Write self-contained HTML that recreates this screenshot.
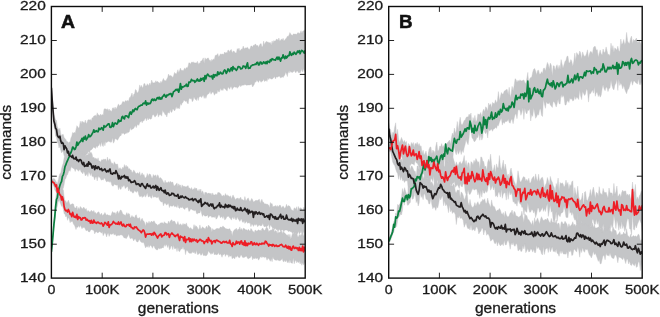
<!DOCTYPE html>
<html><head><meta charset="utf-8"><title>chart</title>
<style>html,body{margin:0;padding:0;background:#fff;}body{width:660px;height:317px;overflow:hidden;font-family:"Liberation Sans",sans-serif;}svg{display:block;opacity:0.999;will-change:transform;}</style>
</head><body>
<svg width="660" height="317" viewBox="0 0 660 317">
<rect width="660" height="317" fill="#ffffff"/>
<clipPath id="clipA"><rect x="51.4" y="6.5" width="253.8" height="271.6"/></clipPath>
<clipPath id="clipB"><rect x="388.7" y="6.5" width="253.5" height="271.6"/></clipPath>
<g clip-path="url(#clipA)">
<path d="M51.4 251.4 L52.2 241.2 L53.1 230.4 L53.9 219.3 L54.8 211.2 L55.6 199.8 L56.5 190.4 L57.3 187.5 L58.2 181.1 L59.0 176.5 L59.9 173.7 L60.7 173.3 L61.6 168.5 L62.4 165.5 L63.3 163.1 L64.1 158.0 L65.0 153.7 L65.8 152.0 L66.7 147.9 L67.5 148.3 L68.4 144.5 L69.2 141.9 L70.1 142.3 L70.9 138.1 L71.8 136.2 L72.6 132.4 L73.5 133.2 L74.3 132.2 L75.2 133.2 L76.0 129.7 L76.9 125.7 L77.7 126.7 L78.6 128.3 L79.4 127.1 L80.3 121.2 L81.1 123.9 L82.0 121.0 L82.8 122.2 L83.7 122.2 L84.5 122.9 L85.4 120.1 L86.2 123.8 L87.1 122.5 L87.9 119.9 L88.7 119.7 L89.6 119.9 L90.4 119.5 L91.3 121.1 L92.1 117.8 L93.0 118.0 L93.8 116.0 L94.7 115.7 L95.5 115.3 L96.4 116.5 L97.2 112.8 L98.1 115.3 L98.9 114.7 L99.8 116.1 L100.6 114.0 L101.5 115.5 L102.3 114.5 L103.2 115.2 L104.0 109.2 L104.9 108.7 L105.7 109.0 L106.6 109.4 L107.4 108.7 L108.3 110.9 L109.1 109.0 L110.0 111.1 L110.8 110.4 L111.7 111.8 L112.5 108.1 L113.4 107.8 L114.2 109.6 L115.1 107.0 L115.9 109.2 L116.8 107.9 L117.6 106.0 L118.5 103.9 L119.3 105.9 L120.2 105.1 L121.0 104.9 L121.9 103.6 L122.7 101.6 L123.6 101.8 L124.4 102.5 L125.2 100.9 L126.1 100.6 L126.9 101.5 L127.8 100.2 L128.6 101.6 L129.5 97.6 L130.3 97.4 L131.2 95.3 L132.0 93.0 L132.9 97.5 L133.7 94.4 L134.6 93.8 L135.4 89.6 L136.3 90.2 L137.1 92.9 L138.0 92.4 L138.8 90.6 L139.7 84.9 L140.5 87.6 L141.4 85.3 L142.2 87.8 L143.1 87.0 L143.9 83.8 L144.8 83.6 L145.6 86.1 L146.5 85.7 L147.3 83.7 L148.2 85.4 L149.0 85.0 L149.9 83.0 L150.7 85.6 L151.6 80.0 L152.4 82.2 L153.3 83.0 L154.1 82.6 L155.0 83.1 L155.8 80.7 L156.7 82.3 L157.5 81.2 L158.4 82.6 L159.2 82.6 L160.1 83.6 L160.9 81.2 L161.7 83.0 L162.6 80.3 L163.4 78.4 L164.3 80.4 L165.1 80.6 L166.0 81.0 L166.8 79.0 L167.7 77.6 L168.5 74.1 L169.4 76.0 L170.2 75.4 L171.1 75.8 L171.9 76.5 L172.8 77.4 L173.6 75.7 L174.5 72.5 L175.3 73.3 L176.2 74.3 L177.0 72.5 L177.9 69.7 L178.7 72.8 L179.6 70.5 L180.4 68.0 L181.3 70.5 L182.1 70.1 L183.0 70.9 L183.8 69.8 L184.7 67.9 L185.5 69.4 L186.4 67.4 L187.2 68.3 L188.1 66.2 L188.9 62.8 L189.8 63.0 L190.6 64.3 L191.5 62.1 L192.3 62.6 L193.2 61.8 L194.0 63.1 L194.9 62.7 L195.7 63.0 L196.5 63.1 L197.4 61.3 L198.2 64.4 L199.1 62.8 L199.9 63.8 L200.8 61.0 L201.6 60.9 L202.5 59.5 L203.3 57.9 L204.2 63.5 L205.0 57.8 L205.9 59.4 L206.7 59.1 L207.6 58.0 L208.4 57.9 L209.3 60.5 L210.1 59.9 L211.0 61.9 L211.8 59.3 L212.7 60.4 L213.5 58.9 L214.4 59.4 L215.2 55.4 L216.1 55.2 L216.9 55.1 L217.8 53.6 L218.6 56.7 L219.5 56.1 L220.3 53.9 L221.2 54.2 L222.0 54.3 L222.9 54.0 L223.7 54.6 L224.6 52.0 L225.4 53.1 L226.3 52.4 L227.1 52.9 L228.0 50.0 L228.8 50.4 L229.7 52.1 L230.5 50.1 L231.4 49.6 L232.2 53.0 L233.0 51.4 L233.9 51.0 L234.7 52.2 L235.6 52.9 L236.4 53.0 L237.3 48.6 L238.1 50.0 L239.0 48.1 L239.8 51.3 L240.7 50.1 L241.5 48.9 L242.4 49.2 L243.2 46.1 L244.1 48.4 L244.9 48.4 L245.8 47.7 L246.6 47.9 L247.5 47.2 L248.3 48.8 L249.2 49.4 L250.0 48.7 L250.9 46.1 L251.7 45.9 L252.6 47.2 L253.4 45.2 L254.3 45.5 L255.1 44.1 L256.0 44.6 L256.8 46.1 L257.7 45.3 L258.5 47.5 L259.4 45.2 L260.2 44.1 L261.1 43.6 L261.9 46.8 L262.8 46.5 L263.6 41.1 L264.5 44.8 L265.3 42.7 L266.2 41.4 L267.0 41.7 L267.9 42.3 L268.7 42.4 L269.5 42.8 L270.4 42.6 L271.2 45.3 L272.1 40.9 L272.9 43.5 L273.8 40.5 L274.6 41.2 L275.5 41.0 L276.3 39.3 L277.2 39.3 L278.0 40.5 L278.9 38.0 L279.7 41.2 L280.6 40.3 L281.4 39.1 L282.3 39.9 L283.1 38.3 L284.0 41.2 L284.8 39.8 L285.7 39.0 L286.5 37.9 L287.4 36.2 L288.2 36.6 L289.1 35.1 L289.9 32.6 L290.8 34.2 L291.6 35.1 L292.5 35.6 L293.3 33.9 L294.2 34.1 L295.0 34.3 L295.9 34.1 L296.7 34.6 L297.6 32.8 L298.4 32.8 L299.3 33.5 L300.1 33.1 L301.0 30.7 L301.8 33.2 L302.7 31.3 L303.5 30.8 L304.4 30.7 L305.2 29.4 L305.2 69.6 L304.4 71.6 L303.5 68.5 L302.7 72.0 L301.8 69.2 L301.0 71.1 L300.1 73.0 L299.3 72.4 L298.4 72.7 L297.6 71.1 L296.7 71.0 L295.9 72.8 L295.0 71.9 L294.2 70.0 L293.3 72.0 L292.5 72.4 L291.6 72.1 L290.8 72.3 L289.9 70.5 L289.1 73.1 L288.2 71.3 L287.4 76.6 L286.5 74.1 L285.7 72.0 L284.8 75.0 L284.0 76.1 L283.1 77.6 L282.3 76.7 L281.4 77.4 L280.6 78.0 L279.7 76.3 L278.9 76.3 L278.0 76.7 L277.2 77.3 L276.3 76.7 L275.5 79.0 L274.6 76.5 L273.8 77.5 L272.9 78.5 L272.1 79.0 L271.2 79.1 L270.4 78.5 L269.5 78.0 L268.7 79.6 L267.9 77.7 L267.0 81.5 L266.2 80.1 L265.3 80.9 L264.5 81.5 L263.6 79.0 L262.8 80.9 L261.9 81.2 L261.1 82.3 L260.2 80.7 L259.4 80.2 L258.5 82.4 L257.7 81.3 L256.8 80.0 L256.0 82.1 L255.1 81.8 L254.3 84.3 L253.4 85.8 L252.6 87.0 L251.7 84.2 L250.9 84.4 L250.0 84.9 L249.2 84.9 L248.3 84.9 L247.5 85.1 L246.6 85.2 L245.8 85.1 L244.9 84.2 L244.1 85.3 L243.2 84.9 L242.4 85.2 L241.5 85.6 L240.7 86.7 L239.8 84.7 L239.0 86.4 L238.1 87.1 L237.3 88.3 L236.4 86.9 L235.6 87.3 L234.7 86.8 L233.9 87.0 L233.0 88.1 L232.2 89.6 L231.4 86.7 L230.5 86.7 L229.7 89.3 L228.8 87.4 L228.0 87.2 L227.1 91.1 L226.3 90.1 L225.4 89.3 L224.6 88.6 L223.7 88.0 L222.9 90.6 L222.0 89.2 L221.2 90.4 L220.3 88.0 L219.5 91.8 L218.6 91.8 L217.8 89.9 L216.9 93.8 L216.1 93.0 L215.2 93.8 L214.4 95.3 L213.5 92.5 L212.7 92.1 L211.8 92.7 L211.0 94.3 L210.1 90.9 L209.3 93.0 L208.4 94.1 L207.6 94.3 L206.7 95.8 L205.9 98.4 L205.0 96.0 L204.2 98.4 L203.3 95.0 L202.5 96.0 L201.6 97.6 L200.8 96.2 L199.9 96.8 L199.1 96.7 L198.2 100.5 L197.4 96.9 L196.5 100.5 L195.7 99.7 L194.9 98.8 L194.0 96.7 L193.2 100.3 L192.3 101.8 L191.5 98.4 L190.6 99.1 L189.8 98.1 L188.9 99.2 L188.1 104.0 L187.2 102.8 L186.4 100.7 L185.5 101.6 L184.7 100.6 L183.8 100.3 L183.0 102.4 L182.1 102.9 L181.3 105.3 L180.4 103.4 L179.6 108.6 L178.7 108.6 L177.9 107.5 L177.0 108.8 L176.2 106.4 L175.3 109.5 L174.5 110.9 L173.6 109.2 L172.8 109.0 L171.9 112.2 L171.1 112.2 L170.2 109.5 L169.4 113.2 L168.5 112.6 L167.7 112.7 L166.8 117.0 L166.0 114.6 L165.1 114.8 L164.3 112.7 L163.4 112.1 L162.6 110.0 L161.7 116.2 L160.9 114.2 L160.1 115.3 L159.2 114.5 L158.4 117.1 L157.5 112.6 L156.7 115.2 L155.8 116.0 L155.0 117.2 L154.1 115.5 L153.3 114.4 L152.4 114.9 L151.6 118.6 L150.7 119.2 L149.9 118.7 L149.0 118.3 L148.2 119.9 L147.3 117.4 L146.5 120.8 L145.6 117.8 L144.8 119.1 L143.9 120.9 L143.1 120.6 L142.2 122.8 L141.4 120.7 L140.5 121.9 L139.7 122.5 L138.8 125.4 L138.0 124.3 L137.1 125.3 L136.3 127.7 L135.4 125.3 L134.6 126.8 L133.7 128.3 L132.9 128.9 L132.0 129.3 L131.2 130.1 L130.3 127.5 L129.5 131.3 L128.6 132.4 L127.8 131.9 L126.9 133.6 L126.1 132.4 L125.2 133.9 L124.4 134.4 L123.6 133.0 L122.7 133.8 L121.9 132.8 L121.0 135.7 L120.2 135.7 L119.3 136.9 L118.5 138.4 L117.6 140.2 L116.8 139.5 L115.9 138.9 L115.1 138.5 L114.2 141.7 L113.4 143.2 L112.5 137.7 L111.7 141.8 L110.8 142.6 L110.0 141.6 L109.1 141.7 L108.3 141.1 L107.4 142.1 L106.6 142.8 L105.7 141.4 L104.9 145.8 L104.0 142.1 L103.2 146.6 L102.3 145.6 L101.5 141.8 L100.6 146.5 L99.8 142.9 L98.9 145.6 L98.1 145.4 L97.2 147.6 L96.4 145.8 L95.5 148.4 L94.7 148.0 L93.8 146.7 L93.0 148.1 L92.1 148.9 L91.3 149.9 L90.4 149.9 L89.6 152.9 L88.7 151.4 L87.9 152.5 L87.1 154.3 L86.2 154.0 L85.4 156.7 L84.5 157.7 L83.7 153.1 L82.8 156.7 L82.0 156.5 L81.1 159.2 L80.3 160.9 L79.4 159.9 L78.6 158.3 L77.7 162.7 L76.9 159.5 L76.0 161.0 L75.2 163.4 L74.3 162.0 L73.5 161.7 L72.6 164.3 L71.8 165.4 L70.9 168.1 L70.1 171.3 L69.2 170.1 L68.4 172.1 L67.5 174.7 L66.7 175.6 L65.8 178.6 L65.0 179.3 L64.1 184.5 L63.3 188.2 L62.4 189.1 L61.6 192.6 L60.7 196.2 L59.9 198.5 L59.0 200.8 L58.2 201.7 L57.3 206.3 L56.5 209.0 L55.6 213.6 L54.8 221.7 L53.9 229.5 L53.1 238.0 L52.2 246.1 L51.4 252.9Z" fill="#c4c5c7" stroke="#c4c5c7" stroke-width="0.4" stroke-linejoin="round"/>
<path d="M51.4 87.2 L52.2 97.7 L53.1 106.3 L53.9 114.0 L54.8 117.4 L55.6 119.8 L56.5 120.5 L57.3 126.3 L58.2 128.6 L59.0 130.4 L59.9 128.2 L60.7 133.4 L61.6 135.9 L62.4 134.5 L63.3 134.4 L64.1 137.8 L65.0 138.5 L65.8 139.5 L66.7 141.6 L67.5 141.7 L68.4 142.5 L69.2 146.2 L70.1 145.5 L70.9 147.0 L71.8 148.7 L72.6 145.2 L73.5 148.5 L74.3 148.6 L75.2 148.7 L76.0 148.7 L76.9 150.9 L77.7 149.1 L78.6 149.8 L79.4 150.1 L80.3 151.0 L81.1 151.6 L82.0 151.9 L82.8 154.8 L83.7 153.1 L84.5 153.1 L85.4 156.8 L86.2 155.3 L87.1 154.5 L87.9 155.3 L88.7 152.7 L89.6 153.6 L90.4 152.4 L91.3 152.4 L92.1 154.2 L93.0 158.3 L93.8 157.0 L94.7 158.8 L95.5 158.2 L96.4 158.6 L97.2 160.1 L98.1 157.8 L98.9 161.2 L99.8 161.1 L100.6 162.2 L101.5 159.7 L102.3 160.1 L103.2 159.3 L104.0 159.5 L104.9 159.3 L105.7 159.0 L106.6 162.0 L107.4 157.1 L108.3 160.9 L109.1 159.4 L110.0 158.8 L110.8 161.4 L111.7 163.6 L112.5 163.0 L113.4 165.2 L114.2 161.7 L115.1 163.4 L115.9 164.3 L116.8 164.3 L117.6 164.0 L118.5 169.1 L119.3 168.4 L120.2 167.7 L121.0 169.3 L121.9 169.3 L122.7 167.2 L123.6 168.2 L124.4 164.6 L125.2 167.5 L126.1 165.2 L126.9 167.1 L127.8 166.5 L128.6 169.3 L129.5 168.5 L130.3 169.9 L131.2 170.1 L132.0 172.4 L132.9 172.2 L133.7 169.9 L134.6 171.3 L135.4 172.8 L136.3 173.8 L137.1 173.0 L138.0 172.8 L138.8 174.3 L139.7 171.8 L140.5 176.1 L141.4 174.5 L142.2 172.8 L143.1 175.4 L143.9 174.4 L144.8 177.4 L145.6 178.1 L146.5 176.6 L147.3 173.5 L148.2 176.5 L149.0 174.3 L149.9 173.9 L150.7 174.7 L151.6 177.5 L152.4 178.3 L153.3 174.5 L154.1 176.0 L155.0 175.6 L155.8 174.9 L156.7 177.8 L157.5 174.7 L158.4 175.9 L159.2 178.8 L160.1 177.5 L160.9 178.0 L161.7 178.9 L162.6 180.2 L163.4 182.1 L164.3 183.5 L165.1 180.2 L166.0 183.1 L166.8 182.2 L167.7 182.7 L168.5 181.6 L169.4 183.0 L170.2 181.2 L171.1 182.4 L171.9 182.3 L172.8 182.1 L173.6 185.3 L174.5 185.9 L175.3 184.9 L176.2 184.0 L177.0 182.9 L177.9 186.8 L178.7 183.8 L179.6 185.4 L180.4 185.0 L181.3 188.6 L182.1 184.8 L183.0 186.7 L183.8 185.9 L184.7 186.6 L185.5 186.8 L186.4 186.8 L187.2 186.2 L188.1 185.6 L188.9 188.2 L189.8 188.0 L190.6 189.6 L191.5 187.5 L192.3 190.3 L193.2 188.7 L194.0 189.6 L194.9 187.6 L195.7 189.0 L196.5 188.0 L197.4 190.6 L198.2 191.2 L199.1 189.2 L199.9 191.4 L200.8 189.1 L201.6 193.3 L202.5 190.8 L203.3 192.6 L204.2 195.4 L205.0 192.0 L205.9 192.8 L206.7 192.6 L207.6 194.0 L208.4 193.1 L209.3 193.1 L210.1 194.3 L211.0 193.0 L211.8 195.4 L212.7 192.9 L213.5 194.9 L214.4 195.1 L215.2 194.4 L216.1 194.2 L216.9 195.3 L217.8 192.6 L218.6 192.6 L219.5 192.7 L220.3 193.6 L221.2 194.7 L222.0 196.3 L222.9 195.9 L223.7 194.9 L224.6 196.6 L225.4 193.5 L226.3 195.8 L227.1 194.7 L228.0 196.0 L228.8 195.8 L229.7 196.9 L230.5 195.7 L231.4 198.9 L232.2 197.0 L233.0 194.9 L233.9 196.7 L234.7 198.2 L235.6 200.0 L236.4 198.6 L237.3 198.3 L238.1 198.0 L239.0 199.8 L239.8 198.1 L240.7 197.2 L241.5 199.5 L242.4 199.6 L243.2 200.1 L244.1 200.7 L244.9 196.6 L245.8 200.8 L246.6 200.2 L247.5 198.6 L248.3 197.9 L249.2 200.5 L250.0 201.8 L250.9 200.0 L251.7 198.4 L252.6 199.8 L253.4 202.0 L254.3 201.5 L255.1 200.8 L256.0 200.2 L256.8 200.6 L257.7 200.5 L258.5 199.7 L259.4 199.3 L260.2 203.4 L261.1 200.7 L261.9 199.3 L262.8 202.2 L263.6 202.3 L264.5 204.1 L265.3 203.8 L266.2 204.2 L267.0 204.0 L267.9 204.6 L268.7 205.2 L269.5 208.0 L270.4 202.5 L271.2 204.0 L272.1 203.6 L272.9 206.9 L273.8 206.3 L274.6 206.2 L275.5 205.4 L276.3 207.1 L277.2 205.4 L278.0 206.9 L278.9 205.9 L279.7 205.1 L280.6 205.4 L281.4 207.9 L282.3 206.9 L283.1 205.9 L284.0 207.5 L284.8 208.4 L285.7 207.1 L286.5 204.3 L287.4 206.9 L288.2 205.6 L289.1 206.1 L289.9 206.3 L290.8 208.5 L291.6 210.1 L292.5 210.3 L293.3 211.0 L294.2 207.8 L295.0 208.5 L295.9 209.0 L296.7 206.7 L297.6 211.5 L298.4 206.5 L299.3 208.8 L300.1 208.0 L301.0 207.8 L301.8 209.0 L302.7 211.1 L303.5 207.3 L304.4 209.7 L305.2 207.0 L305.2 232.5 L304.4 234.9 L303.5 231.1 L302.7 235.0 L301.8 234.0 L301.0 231.1 L300.1 233.2 L299.3 233.9 L298.4 231.2 L297.6 233.8 L296.7 233.6 L295.9 233.0 L295.0 233.4 L294.2 235.0 L293.3 231.7 L292.5 233.4 L291.6 231.8 L290.8 232.0 L289.9 230.9 L289.1 231.3 L288.2 231.4 L287.4 230.3 L286.5 230.1 L285.7 230.1 L284.8 230.0 L284.0 231.5 L283.1 230.6 L282.3 229.7 L281.4 230.2 L280.6 231.2 L279.7 229.5 L278.9 229.5 L278.0 231.7 L277.2 229.4 L276.3 229.7 L275.5 228.2 L274.6 229.5 L273.8 228.0 L272.9 228.0 L272.1 227.4 L271.2 225.7 L270.4 225.0 L269.5 228.9 L268.7 224.3 L267.9 225.8 L267.0 226.4 L266.2 227.1 L265.3 225.9 L264.5 227.0 L263.6 225.7 L262.8 223.2 L261.9 225.5 L261.1 225.7 L260.2 225.8 L259.4 225.0 L258.5 225.5 L257.7 226.8 L256.8 224.6 L256.0 224.3 L255.1 225.4 L254.3 224.0 L253.4 226.4 L252.6 224.5 L251.7 224.3 L250.9 226.7 L250.0 222.6 L249.2 223.2 L248.3 222.7 L247.5 223.3 L246.6 221.2 L245.8 222.2 L244.9 223.4 L244.1 220.4 L243.2 222.4 L242.4 221.9 L241.5 219.1 L240.7 219.7 L239.8 221.4 L239.0 219.9 L238.1 218.8 L237.3 216.7 L236.4 219.7 L235.6 219.6 L234.7 216.6 L233.9 219.2 L233.0 217.0 L232.2 217.8 L231.4 220.1 L230.5 218.5 L229.7 218.0 L228.8 216.1 L228.0 216.8 L227.1 216.2 L226.3 218.0 L225.4 219.4 L224.6 219.8 L223.7 215.8 L222.9 218.4 L222.0 216.2 L221.2 217.2 L220.3 217.7 L219.5 215.0 L218.6 214.7 L217.8 216.8 L216.9 218.4 L216.1 219.2 L215.2 216.0 L214.4 217.5 L213.5 217.1 L212.7 217.0 L211.8 217.4 L211.0 216.0 L210.1 216.0 L209.3 216.2 L208.4 217.8 L207.6 214.7 L206.7 215.9 L205.9 216.0 L205.0 216.2 L204.2 215.5 L203.3 214.6 L202.5 216.4 L201.6 213.6 L200.8 209.5 L199.9 212.9 L199.1 212.9 L198.2 213.1 L197.4 213.8 L196.5 213.4 L195.7 210.2 L194.9 210.6 L194.0 210.8 L193.2 210.0 L192.3 210.1 L191.5 209.1 L190.6 208.9 L189.8 210.8 L188.9 211.5 L188.1 208.1 L187.2 207.1 L186.4 207.9 L185.5 207.8 L184.7 209.6 L183.8 208.4 L183.0 208.1 L182.1 206.6 L181.3 208.0 L180.4 207.0 L179.6 208.5 L178.7 207.7 L177.9 204.2 L177.0 207.6 L176.2 206.4 L175.3 206.2 L174.5 206.8 L173.6 204.8 L172.8 206.2 L171.9 206.0 L171.1 206.2 L170.2 205.4 L169.4 207.6 L168.5 203.6 L167.7 203.8 L166.8 205.1 L166.0 204.5 L165.1 202.7 L164.3 203.6 L163.4 205.8 L162.6 201.7 L161.7 202.0 L160.9 201.7 L160.1 200.8 L159.2 199.2 L158.4 196.6 L157.5 197.5 L156.7 197.8 L155.8 196.8 L155.0 197.2 L154.1 196.5 L153.3 197.4 L152.4 194.5 L151.6 198.3 L150.7 197.5 L149.9 195.4 L149.0 197.0 L148.2 196.8 L147.3 192.7 L146.5 195.0 L145.6 197.2 L144.8 194.4 L143.9 196.7 L143.1 195.9 L142.2 197.5 L141.4 195.7 L140.5 196.5 L139.7 196.7 L138.8 194.8 L138.0 191.3 L137.1 191.0 L136.3 192.4 L135.4 191.3 L134.6 190.6 L133.7 192.6 L132.9 193.2 L132.0 192.2 L131.2 190.9 L130.3 191.4 L129.5 188.5 L128.6 191.0 L127.8 186.4 L126.9 186.7 L126.1 187.8 L125.2 188.6 L124.4 185.5 L123.6 185.5 L122.7 187.3 L121.9 185.7 L121.0 189.4 L120.2 189.0 L119.3 186.5 L118.5 189.7 L117.6 184.7 L116.8 185.3 L115.9 184.7 L115.1 185.0 L114.2 184.0 L113.4 186.1 L112.5 186.1 L111.7 184.7 L110.8 181.1 L110.0 182.4 L109.1 181.2 L108.3 181.6 L107.4 181.3 L106.6 181.9 L105.7 180.4 L104.9 178.3 L104.0 178.3 L103.2 180.1 L102.3 179.4 L101.5 180.3 L100.6 179.0 L99.8 176.9 L98.9 177.5 L98.1 175.8 L97.2 180.9 L96.4 176.7 L95.5 176.9 L94.7 179.9 L93.8 176.9 L93.0 176.2 L92.1 176.5 L91.3 172.8 L90.4 175.6 L89.6 173.3 L88.7 172.1 L87.9 176.5 L87.1 173.2 L86.2 175.1 L85.4 176.0 L84.5 173.0 L83.7 171.2 L82.8 173.9 L82.0 172.6 L81.1 172.0 L80.3 169.6 L79.4 169.7 L78.6 171.3 L77.7 170.1 L76.9 169.6 L76.0 168.7 L75.2 171.5 L74.3 168.7 L73.5 168.4 L72.6 168.1 L71.8 167.3 L70.9 165.8 L70.1 166.3 L69.2 165.0 L68.4 161.5 L67.5 162.1 L66.7 157.9 L65.8 159.2 L65.0 155.0 L64.1 155.9 L63.3 151.7 L62.4 151.2 L61.6 152.9 L60.7 149.9 L59.9 145.9 L59.0 148.0 L58.2 142.9 L57.3 142.8 L56.5 136.9 L55.6 136.3 L54.8 129.9 L53.9 126.2 L53.1 117.3 L52.2 103.5 L51.4 89.1Z" fill="#c4c5c7" stroke="#c4c5c7" stroke-width="0.4" stroke-linejoin="round"/>
<path d="M51.4 179.8 L52.2 179.3 L53.1 178.8 L53.9 178.6 L54.8 179.0 L55.6 181.0 L56.5 181.9 L57.3 184.7 L58.2 180.6 L59.0 182.4 L59.9 183.0 L60.7 186.5 L61.6 189.8 L62.4 189.1 L63.3 189.8 L64.1 196.7 L65.0 201.6 L65.8 200.6 L66.7 203.2 L67.5 201.9 L68.4 200.1 L69.2 202.4 L70.1 205.0 L70.9 204.6 L71.8 204.0 L72.6 203.7 L73.5 204.0 L74.3 207.3 L75.2 208.0 L76.0 207.9 L76.9 206.0 L77.7 210.6 L78.6 207.5 L79.4 209.5 L80.3 206.4 L81.1 207.6 L82.0 208.4 L82.8 208.8 L83.7 207.0 L84.5 208.3 L85.4 209.5 L86.2 208.4 L87.1 211.9 L87.9 210.4 L88.7 210.9 L89.6 211.9 L90.4 211.7 L91.3 210.2 L92.1 211.0 L93.0 212.0 L93.8 210.4 L94.7 212.7 L95.5 212.4 L96.4 214.2 L97.2 212.7 L98.1 212.2 L98.9 211.8 L99.8 214.2 L100.6 214.7 L101.5 213.1 L102.3 215.4 L103.2 214.9 L104.0 214.2 L104.9 212.5 L105.7 214.0 L106.6 215.3 L107.4 214.6 L108.3 215.3 L109.1 215.3 L110.0 215.4 L110.8 215.9 L111.7 213.5 L112.5 211.5 L113.4 212.8 L114.2 212.9 L115.1 212.5 L115.9 214.7 L116.8 212.1 L117.6 210.9 L118.5 213.7 L119.3 212.3 L120.2 210.2 L121.0 210.0 L121.9 211.7 L122.7 213.7 L123.6 214.5 L124.4 214.7 L125.2 215.7 L126.1 214.2 L126.9 212.6 L127.8 215.1 L128.6 213.3 L129.5 214.0 L130.3 218.2 L131.2 217.0 L132.0 215.4 L132.9 217.2 L133.7 216.8 L134.6 218.2 L135.4 215.5 L136.3 214.8 L137.1 218.0 L138.0 218.3 L138.8 218.2 L139.7 217.4 L140.5 221.7 L141.4 219.3 L142.2 218.3 L143.1 220.7 L143.9 221.2 L144.8 222.9 L145.6 226.2 L146.5 221.8 L147.3 222.9 L148.2 223.6 L149.0 221.2 L149.9 223.4 L150.7 222.1 L151.6 221.0 L152.4 222.3 L153.3 221.5 L154.1 220.8 L155.0 222.7 L155.8 224.0 L156.7 224.1 L157.5 225.4 L158.4 224.5 L159.2 224.5 L160.1 223.2 L160.9 222.9 L161.7 222.8 L162.6 222.8 L163.4 224.1 L164.3 221.7 L165.1 222.9 L166.0 223.0 L166.8 223.8 L167.7 223.8 L168.5 221.0 L169.4 223.6 L170.2 221.3 L171.1 220.2 L171.9 219.8 L172.8 222.1 L173.6 221.1 L174.5 221.1 L175.3 222.6 L176.2 224.6 L177.0 224.3 L177.9 221.5 L178.7 224.6 L179.6 225.0 L180.4 223.7 L181.3 224.9 L182.1 225.4 L183.0 223.4 L183.8 224.7 L184.7 223.8 L185.5 224.7 L186.4 222.9 L187.2 225.9 L188.1 226.8 L188.9 227.5 L189.8 228.7 L190.6 227.6 L191.5 228.8 L192.3 229.7 L193.2 228.7 L194.0 224.6 L194.9 227.8 L195.7 225.6 L196.5 226.3 L197.4 227.4 L198.2 229.4 L199.1 229.0 L199.9 224.9 L200.8 228.9 L201.6 228.6 L202.5 226.7 L203.3 227.8 L204.2 228.0 L205.0 229.6 L205.9 227.2 L206.7 226.1 L207.6 228.5 L208.4 225.0 L209.3 226.3 L210.1 227.0 L211.0 227.9 L211.8 232.1 L212.7 228.6 L213.5 229.9 L214.4 230.0 L215.2 229.4 L216.1 229.0 L216.9 228.3 L217.8 228.6 L218.6 228.7 L219.5 228.5 L220.3 227.1 L221.2 226.9 L222.0 227.8 L222.9 225.9 L223.7 226.9 L224.6 227.6 L225.4 228.4 L226.3 228.7 L227.1 229.1 L228.0 229.0 L228.8 229.2 L229.7 228.6 L230.5 230.5 L231.4 231.2 L232.2 235.9 L233.0 231.7 L233.9 230.5 L234.7 229.6 L235.6 229.2 L236.4 228.2 L237.3 230.7 L238.1 229.1 L239.0 229.7 L239.8 226.9 L240.7 230.3 L241.5 228.4 L242.4 230.7 L243.2 228.2 L244.1 228.5 L244.9 229.1 L245.8 230.0 L246.6 229.8 L247.5 230.7 L248.3 229.2 L249.2 230.5 L250.0 231.2 L250.9 228.5 L251.7 229.3 L252.6 231.3 L253.4 231.6 L254.3 232.7 L255.1 230.0 L256.0 230.6 L256.8 231.2 L257.7 230.4 L258.5 229.8 L259.4 230.5 L260.2 230.1 L261.1 231.2 L261.9 228.8 L262.8 228.1 L263.6 229.8 L264.5 230.6 L265.3 229.4 L266.2 227.6 L267.0 227.3 L267.9 228.8 L268.7 231.7 L269.5 230.7 L270.4 230.3 L271.2 230.3 L272.1 229.8 L272.9 228.0 L273.8 229.2 L274.6 231.9 L275.5 230.4 L276.3 230.9 L277.2 233.5 L278.0 231.7 L278.9 233.2 L279.7 232.1 L280.6 231.6 L281.4 230.6 L282.3 233.8 L283.1 231.2 L284.0 232.5 L284.8 233.1 L285.7 234.1 L286.5 235.1 L287.4 235.4 L288.2 234.3 L289.1 237.6 L289.9 234.3 L290.8 239.2 L291.6 236.6 L292.5 233.4 L293.3 233.2 L294.2 234.0 L295.0 234.6 L295.9 231.3 L296.7 232.3 L297.6 236.5 L298.4 237.0 L299.3 234.3 L300.1 235.9 L301.0 234.2 L301.8 234.7 L302.7 233.8 L303.5 236.2 L304.4 233.5 L305.2 236.1 L305.2 264.5 L304.4 261.7 L303.5 265.1 L302.7 262.7 L301.8 265.3 L301.0 262.0 L300.1 264.0 L299.3 261.1 L298.4 262.7 L297.6 261.2 L296.7 262.8 L295.9 260.0 L295.0 261.3 L294.2 263.8 L293.3 257.8 L292.5 263.3 L291.6 263.0 L290.8 262.7 L289.9 259.5 L289.1 263.1 L288.2 260.9 L287.4 262.8 L286.5 259.8 L285.7 261.9 L284.8 260.0 L284.0 261.8 L283.1 261.5 L282.3 258.6 L281.4 259.8 L280.6 260.2 L279.7 261.1 L278.9 260.0 L278.0 260.6 L277.2 259.4 L276.3 260.5 L275.5 260.0 L274.6 259.7 L273.8 259.0 L272.9 257.1 L272.1 261.7 L271.2 258.5 L270.4 261.3 L269.5 259.8 L268.7 258.4 L267.9 258.2 L267.0 260.2 L266.2 257.5 L265.3 256.9 L264.5 257.6 L263.6 257.0 L262.8 256.6 L261.9 257.7 L261.1 256.5 L260.2 256.9 L259.4 258.8 L258.5 260.2 L257.7 257.9 L256.8 258.2 L256.0 258.8 L255.1 257.6 L254.3 259.0 L253.4 258.1 L252.6 259.8 L251.7 255.7 L250.9 256.4 L250.0 258.1 L249.2 258.0 L248.3 258.9 L247.5 258.2 L246.6 256.2 L245.8 256.4 L244.9 257.0 L244.1 257.4 L243.2 257.6 L242.4 257.2 L241.5 254.9 L240.7 255.2 L239.8 257.5 L239.0 257.8 L238.1 256.8 L237.3 255.6 L236.4 257.3 L235.6 256.3 L234.7 258.9 L233.9 257.6 L233.0 257.9 L232.2 258.8 L231.4 255.6 L230.5 256.3 L229.7 255.5 L228.8 257.3 L228.0 254.5 L227.1 255.0 L226.3 254.3 L225.4 256.4 L224.6 253.4 L223.7 254.7 L222.9 254.4 L222.0 257.3 L221.2 255.0 L220.3 253.7 L219.5 255.0 L218.6 252.4 L217.8 254.2 L216.9 254.5 L216.1 254.9 L215.2 253.9 L214.4 254.9 L213.5 251.6 L212.7 253.8 L211.8 253.0 L211.0 254.4 L210.1 253.1 L209.3 252.3 L208.4 250.7 L207.6 254.0 L206.7 255.2 L205.9 256.0 L205.0 255.3 L204.2 255.5 L203.3 255.4 L202.5 252.6 L201.6 254.9 L200.8 255.2 L199.9 252.9 L199.1 253.5 L198.2 254.4 L197.4 254.4 L196.5 250.3 L195.7 253.6 L194.9 253.6 L194.0 251.5 L193.2 253.0 L192.3 251.6 L191.5 253.3 L190.6 253.2 L189.8 253.2 L188.9 253.0 L188.1 251.5 L187.2 250.6 L186.4 250.2 L185.5 254.6 L184.7 249.0 L183.8 249.5 L183.0 246.5 L182.1 249.2 L181.3 248.7 L180.4 249.9 L179.6 251.7 L178.7 251.1 L177.9 246.9 L177.0 251.5 L176.2 247.8 L175.3 248.8 L174.5 248.7 L173.6 245.2 L172.8 249.6 L171.9 246.0 L171.1 246.0 L170.2 248.8 L169.4 249.8 L168.5 244.6 L167.7 247.6 L166.8 245.0 L166.0 244.4 L165.1 246.4 L164.3 244.2 L163.4 247.9 L162.6 247.4 L161.7 248.4 L160.9 247.7 L160.1 248.9 L159.2 248.6 L158.4 248.1 L157.5 250.0 L156.7 250.0 L155.8 249.0 L155.0 248.4 L154.1 246.0 L153.3 245.7 L152.4 248.3 L151.6 246.4 L150.7 245.3 L149.9 245.8 L149.0 247.6 L148.2 245.0 L147.3 247.2 L146.5 246.3 L145.6 247.9 L144.8 245.8 L143.9 242.9 L143.1 242.3 L142.2 242.7 L141.4 242.2 L140.5 241.4 L139.7 239.6 L138.8 240.0 L138.0 241.9 L137.1 241.9 L136.3 241.2 L135.4 238.8 L134.6 239.1 L133.7 240.9 L132.9 239.1 L132.0 238.1 L131.2 238.2 L130.3 238.7 L129.5 236.9 L128.6 233.8 L127.8 236.2 L126.9 237.5 L126.1 238.7 L125.2 237.7 L124.4 238.0 L123.6 237.2 L122.7 235.4 L121.9 235.1 L121.0 234.7 L120.2 235.0 L119.3 235.5 L118.5 235.3 L117.6 235.3 L116.8 236.2 L115.9 235.2 L115.1 233.7 L114.2 235.2 L113.4 232.9 L112.5 234.1 L111.7 234.4 L110.8 233.7 L110.0 234.3 L109.1 236.4 L108.3 233.1 L107.4 234.1 L106.6 237.0 L105.7 233.9 L104.9 232.6 L104.0 234.1 L103.2 235.7 L102.3 231.6 L101.5 233.2 L100.6 232.2 L99.8 231.4 L98.9 232.1 L98.1 232.7 L97.2 232.7 L96.4 231.4 L95.5 232.3 L94.7 233.9 L93.8 230.0 L93.0 230.5 L92.1 229.5 L91.3 229.5 L90.4 230.6 L89.6 232.0 L88.7 231.9 L87.9 230.8 L87.1 230.0 L86.2 230.9 L85.4 229.2 L84.5 227.4 L83.7 227.5 L82.8 227.6 L82.0 228.7 L81.1 226.7 L80.3 225.3 L79.4 227.4 L78.6 225.4 L77.7 227.4 L76.9 226.7 L76.0 229.5 L75.2 227.0 L74.3 224.8 L73.5 224.3 L72.6 221.2 L71.8 221.7 L70.9 221.2 L70.1 222.7 L69.2 218.8 L68.4 217.4 L67.5 220.3 L66.7 215.8 L65.8 216.9 L65.0 214.4 L64.1 213.4 L63.3 209.1 L62.4 205.6 L61.6 206.4 L60.7 204.1 L59.9 202.1 L59.0 197.4 L58.2 195.3 L57.3 197.4 L56.5 192.3 L55.6 191.2 L54.8 190.0 L53.9 186.6 L53.1 185.2 L52.2 182.6 L51.4 182.1Z" fill="#c4c5c7" stroke="#c4c5c7" stroke-width="0.4" stroke-linejoin="round"/>
<path d="M51.4 252.0 L52.2 243.8 L53.1 233.8 L53.9 224.5 L54.8 216.6 L55.6 206.8 L56.5 199.3 L57.3 197.9 L58.2 191.8 L59.0 188.8 L59.9 185.4 L60.7 183.2 L61.6 181.4 L62.4 176.4 L63.3 174.9 L64.1 171.7 L65.0 166.6 L65.8 164.9 L66.7 162.3 L67.5 160.7 L68.4 158.5 L69.2 156.8 L70.1 154.0 L70.9 152.7 L71.8 150.2 L72.6 147.1 L73.5 147.6 L74.3 149.5 L75.2 149.1 L76.0 147.0 L76.9 142.0 L77.7 145.3 L78.6 143.8 L79.4 142.2 L80.3 141.8 L81.1 140.5 L82.0 138.4 L82.8 141.5 L83.7 137.4 L84.5 139.1 L85.4 136.1 L86.2 139.9 L87.1 138.6 L87.9 137.4 L88.7 134.5 L89.6 136.7 L90.4 136.4 L91.3 135.3 L92.1 133.8 L93.0 132.4 L93.8 129.8 L94.7 132.2 L95.5 131.3 L96.4 130.7 L97.2 131.7 L98.1 131.7 L98.9 128.1 L99.8 129.6 L100.6 129.2 L101.5 127.7 L102.3 128.2 L103.2 130.2 L104.0 125.7 L104.9 127.1 L105.7 126.7 L106.6 125.5 L107.4 125.1 L108.3 123.8 L109.1 123.9 L110.0 127.2 L110.8 127.4 L111.7 126.5 L112.5 122.6 L113.4 126.6 L114.2 124.3 L115.1 122.9 L115.9 123.3 L116.8 124.1 L117.6 123.2 L118.5 119.8 L119.3 121.6 L120.2 120.9 L121.0 121.1 L121.9 117.1 L122.7 116.3 L123.6 118.3 L124.4 118.9 L125.2 116.1 L126.1 115.8 L126.9 116.0 L127.8 116.8 L128.6 117.6 L129.5 113.4 L130.3 111.9 L131.2 114.3 L132.0 112.4 L132.9 110.0 L133.7 111.6 L134.6 109.6 L135.4 108.5 L136.3 109.4 L137.1 109.6 L138.0 107.2 L138.8 106.3 L139.7 106.2 L140.5 105.4 L141.4 105.2 L142.2 105.1 L143.1 103.3 L143.9 103.2 L144.8 103.6 L145.6 100.9 L146.5 105.1 L147.3 103.0 L148.2 104.0 L149.0 103.2 L149.9 103.7 L150.7 102.8 L151.6 99.9 L152.4 99.1 L153.3 100.6 L154.1 99.1 L155.0 100.3 L155.8 100.3 L156.7 98.6 L157.5 97.6 L158.4 98.8 L159.2 97.2 L160.1 99.2 L160.9 97.9 L161.7 98.9 L162.6 96.4 L163.4 96.0 L164.3 94.4 L165.1 95.9 L166.0 97.2 L166.8 95.1 L167.7 95.6 L168.5 94.4 L169.4 94.4 L170.2 93.5 L171.1 93.7 L171.9 96.6 L172.8 94.1 L173.6 91.5 L174.5 91.2 L175.3 90.2 L176.2 89.3 L177.0 90.3 L177.9 89.2 L178.7 92.2 L179.6 89.0 L180.4 83.5 L181.3 89.2 L182.1 86.7 L183.0 87.1 L183.8 86.7 L184.7 85.8 L185.5 85.8 L186.4 84.2 L187.2 86.5 L188.1 86.2 L188.9 82.0 L189.8 82.4 L190.6 81.8 L191.5 79.4 L192.3 80.6 L193.2 80.7 L194.0 80.5 L194.9 82.3 L195.7 81.4 L196.5 80.4 L197.4 79.0 L198.2 81.0 L199.1 80.2 L199.9 81.2 L200.8 78.3 L201.6 80.2 L202.5 78.4 L203.3 78.0 L204.2 81.3 L205.0 75.5 L205.9 78.9 L206.7 75.6 L207.6 74.1 L208.4 75.0 L209.3 76.4 L210.1 76.3 L211.0 76.6 L211.8 76.0 L212.7 79.0 L213.5 74.5 L214.4 77.0 L215.2 74.7 L216.1 75.2 L216.9 75.7 L217.8 71.8 L218.6 74.5 L219.5 73.9 L220.3 72.2 L221.2 73.1 L222.0 73.9 L222.9 73.6 L223.7 71.4 L224.6 69.9 L225.4 70.8 L226.3 73.4 L227.1 71.9 L228.0 68.9 L228.8 70.2 L229.7 71.5 L230.5 69.0 L231.4 67.8 L232.2 70.8 L233.0 66.5 L233.9 68.9 L234.7 68.3 L235.6 69.5 L236.4 70.3 L237.3 69.1 L238.1 66.7 L239.0 66.7 L239.8 67.0 L240.7 69.0 L241.5 68.8 L242.4 68.0 L243.2 66.0 L244.1 66.6 L244.9 66.4 L245.8 68.3 L246.6 65.6 L247.5 62.8 L248.3 68.5 L249.2 67.8 L250.0 68.2 L250.9 66.0 L251.7 65.7 L252.6 64.9 L253.4 64.9 L254.3 64.6 L255.1 64.2 L256.0 64.5 L256.8 62.6 L257.7 62.3 L258.5 64.9 L259.4 64.7 L260.2 62.0 L261.1 62.3 L261.9 64.0 L262.8 63.3 L263.6 61.8 L264.5 62.9 L265.3 63.5 L266.2 61.7 L267.0 63.6 L267.9 61.2 L268.7 61.5 L269.5 62.4 L270.4 59.5 L271.2 60.8 L272.1 58.7 L272.9 59.2 L273.8 59.8 L274.6 59.8 L275.5 60.1 L276.3 58.4 L277.2 57.1 L278.0 59.5 L278.9 57.1 L279.7 58.9 L280.6 61.1 L281.4 57.9 L282.3 58.0 L283.1 54.8 L284.0 57.6 L284.8 58.6 L285.7 56.1 L286.5 58.0 L287.4 56.9 L288.2 55.5 L289.1 55.6 L289.9 51.8 L290.8 54.8 L291.6 55.3 L292.5 53.3 L293.3 54.3 L294.2 52.2 L295.0 53.0 L295.9 54.4 L296.7 53.2 L297.6 51.1 L298.4 52.4 L299.3 50.7 L300.1 53.8 L301.0 51.4 L301.8 50.4 L302.7 50.9 L303.5 52.1 L304.4 53.2 L305.2 50.1" fill="none" stroke="#0b8140" stroke-width="1.70" stroke-linejoin="round"/>
<path d="M51.4 87.8 L52.2 100.4 L53.1 111.3 L53.9 121.0 L54.8 124.0 L55.6 128.3 L56.5 129.5 L57.3 135.2 L58.2 136.9 L59.0 137.6 L59.9 136.2 L60.7 140.8 L61.6 143.3 L62.4 142.5 L63.3 143.8 L64.1 149.6 L65.0 145.9 L65.8 147.6 L66.7 148.8 L67.5 152.8 L68.4 151.3 L69.2 155.5 L70.1 156.0 L70.9 156.2 L71.8 157.3 L72.6 155.4 L73.5 158.6 L74.3 158.5 L75.2 159.0 L76.0 157.1 L76.9 160.3 L77.7 159.8 L78.6 161.5 L79.4 160.1 L80.3 159.6 L81.1 160.3 L82.0 163.3 L82.8 164.7 L83.7 162.5 L84.5 166.4 L85.4 165.5 L86.2 166.0 L87.1 164.0 L87.9 166.2 L88.7 161.8 L89.6 164.2 L90.4 163.4 L91.3 165.2 L92.1 168.1 L93.0 166.1 L93.8 166.2 L94.7 169.6 L95.5 165.9 L96.4 168.2 L97.2 168.6 L98.1 166.7 L98.9 167.2 L99.8 169.5 L100.6 169.4 L101.5 168.5 L102.3 170.7 L103.2 170.1 L104.0 169.6 L104.9 168.9 L105.7 170.8 L106.6 171.9 L107.4 170.6 L108.3 171.7 L109.1 170.3 L110.0 168.9 L110.8 173.5 L111.7 173.7 L112.5 174.2 L113.4 172.8 L114.2 173.0 L115.1 173.6 L115.9 170.6 L116.8 172.7 L117.6 174.1 L118.5 178.8 L119.3 175.7 L120.2 178.8 L121.0 178.7 L121.9 176.4 L122.7 177.0 L123.6 176.4 L124.4 175.5 L125.2 178.0 L126.1 176.6 L126.9 178.2 L127.8 176.9 L128.6 180.6 L129.5 179.6 L130.3 180.9 L131.2 182.5 L132.0 182.1 L132.9 182.2 L133.7 181.6 L134.6 180.7 L135.4 182.1 L136.3 184.5 L137.1 184.4 L138.0 183.7 L138.8 184.0 L139.7 185.8 L140.5 186.3 L141.4 183.8 L142.2 183.5 L143.1 185.1 L143.9 186.3 L144.8 187.4 L145.6 188.4 L146.5 185.6 L147.3 183.8 L148.2 186.3 L149.0 186.2 L149.9 185.4 L150.7 187.8 L151.6 188.0 L152.4 187.2 L153.3 186.1 L154.1 188.0 L155.0 186.9 L155.8 185.5 L156.7 190.1 L157.5 186.6 L158.4 188.7 L159.2 190.3 L160.1 188.8 L160.9 187.7 L161.7 190.3 L162.6 190.9 L163.4 190.6 L164.3 192.7 L165.1 190.1 L166.0 193.3 L166.8 194.1 L167.7 192.8 L168.5 193.4 L169.4 195.5 L170.2 195.2 L171.1 194.8 L171.9 193.2 L172.8 193.8 L173.6 193.6 L174.5 195.7 L175.3 195.6 L176.2 196.1 L177.0 195.8 L177.9 194.5 L178.7 198.2 L179.6 198.2 L180.4 196.2 L181.3 197.3 L182.1 195.9 L183.0 197.1 L183.8 197.6 L184.7 197.8 L185.5 196.7 L186.4 197.7 L187.2 198.3 L188.1 198.5 L188.9 199.8 L189.8 199.6 L190.6 199.3 L191.5 199.3 L192.3 198.5 L193.2 200.6 L194.0 199.7 L194.9 199.0 L195.7 199.0 L196.5 201.0 L197.4 201.1 L198.2 202.5 L199.1 200.4 L199.9 201.9 L200.8 198.9 L201.6 206.4 L202.5 205.5 L203.3 204.2 L204.2 204.0 L205.0 202.5 L205.9 203.3 L206.7 203.9 L207.6 203.2 L208.4 205.6 L209.3 206.1 L210.1 204.7 L211.0 204.0 L211.8 206.0 L212.7 204.1 L213.5 207.4 L214.4 208.7 L215.2 207.6 L216.1 207.6 L216.9 206.6 L217.8 205.4 L218.6 205.7 L219.5 202.9 L220.3 207.3 L221.2 205.3 L222.0 206.6 L222.9 206.9 L223.7 206.7 L224.6 207.8 L225.4 204.4 L226.3 206.8 L227.1 205.4 L228.0 207.3 L228.8 204.9 L229.7 206.5 L230.5 205.5 L231.4 206.9 L232.2 207.8 L233.0 206.5 L233.9 208.8 L234.7 206.7 L235.6 210.7 L236.4 210.1 L237.3 208.2 L238.1 210.0 L239.0 209.9 L239.8 210.3 L240.7 207.5 L241.5 210.2 L242.4 210.9 L243.2 210.0 L244.1 210.0 L244.9 208.2 L245.8 209.8 L246.6 211.6 L247.5 209.3 L248.3 213.8 L249.2 210.4 L250.0 212.6 L250.9 212.2 L251.7 211.3 L252.6 211.6 L253.4 217.4 L254.3 212.2 L255.1 213.9 L256.0 211.7 L256.8 212.9 L257.7 214.2 L258.5 212.5 L259.4 212.2 L260.2 214.3 L261.1 213.4 L261.9 213.3 L262.8 214.7 L263.6 213.8 L264.5 217.1 L265.3 217.0 L266.2 216.4 L267.0 215.7 L267.9 217.3 L268.7 215.5 L269.5 219.4 L270.4 214.0 L271.2 214.2 L272.1 215.2 L272.9 217.3 L273.8 216.7 L274.6 218.7 L275.5 216.7 L276.3 219.2 L277.2 218.2 L278.0 219.2 L278.9 217.2 L279.7 216.6 L280.6 214.3 L281.4 218.3 L282.3 216.4 L283.1 216.3 L284.0 219.2 L284.8 219.1 L285.7 218.7 L286.5 215.1 L287.4 218.4 L288.2 219.5 L289.1 219.9 L289.9 219.5 L290.8 220.2 L291.6 218.4 L292.5 221.5 L293.3 219.2 L294.2 220.9 L295.0 220.2 L295.9 221.0 L296.7 219.3 L297.6 223.5 L298.4 218.4 L299.3 220.2 L300.1 219.2 L301.0 220.8 L301.8 218.8 L302.7 223.3 L303.5 219.1 L304.4 221.6 L305.2 220.4" fill="none" stroke="#231f20" stroke-width="1.70" stroke-linejoin="round"/>
<path d="M51.4 180.7 L52.2 181.6 L53.1 182.4 L53.9 182.7 L54.8 184.3 L55.6 186.5 L56.5 185.0 L57.3 192.2 L58.2 188.3 L59.0 192.6 L59.9 195.0 L60.7 195.3 L61.6 200.0 L62.4 196.9 L63.3 200.2 L64.1 206.5 L65.0 209.7 L65.8 210.9 L66.7 210.3 L67.5 212.0 L68.4 209.5 L69.2 211.4 L70.1 214.3 L70.9 214.0 L71.8 216.7 L72.6 212.3 L73.5 215.3 L74.3 217.2 L75.2 216.5 L76.0 217.7 L76.9 214.4 L77.7 219.5 L78.6 216.5 L79.4 218.0 L80.3 217.7 L81.1 219.9 L82.0 219.8 L82.8 217.8 L83.7 218.1 L84.5 217.6 L85.4 217.9 L86.2 220.1 L87.1 219.3 L87.9 220.5 L88.7 221.2 L89.6 220.6 L90.4 223.1 L91.3 220.4 L92.1 223.1 L93.0 222.9 L93.8 220.1 L94.7 222.4 L95.5 222.3 L96.4 223.4 L97.2 222.4 L98.1 222.2 L98.9 223.0 L99.8 223.5 L100.6 223.7 L101.5 223.0 L102.3 224.0 L103.2 226.1 L104.0 224.5 L104.9 222.4 L105.7 222.9 L106.6 224.4 L107.4 225.1 L108.3 221.8 L109.1 227.4 L110.0 224.9 L110.8 224.8 L111.7 224.4 L112.5 223.1 L113.4 221.5 L114.2 222.8 L115.1 223.1 L115.9 224.0 L116.8 223.4 L117.6 224.2 L118.5 222.0 L119.3 224.5 L120.2 223.5 L121.0 222.0 L121.9 225.1 L122.7 225.9 L123.6 224.2 L124.4 226.0 L125.2 226.7 L126.1 226.4 L126.9 224.7 L127.8 225.0 L128.6 224.3 L129.5 226.2 L130.3 224.2 L131.2 227.5 L132.0 227.5 L132.9 228.6 L133.7 228.8 L134.6 226.9 L135.4 227.5 L136.3 226.9 L137.1 228.2 L138.0 229.5 L138.8 230.1 L139.7 230.7 L140.5 231.5 L141.4 232.6 L142.2 231.3 L143.1 230.0 L143.9 230.5 L144.8 232.8 L145.6 237.1 L146.5 234.3 L147.3 234.1 L148.2 234.1 L149.0 234.1 L149.9 233.9 L150.7 233.8 L151.6 235.2 L152.4 233.5 L153.3 234.9 L154.1 232.3 L155.0 233.5 L155.8 235.0 L156.7 236.3 L157.5 238.0 L158.4 236.2 L159.2 235.3 L160.1 234.5 L160.9 233.9 L161.7 236.9 L162.6 235.6 L163.4 235.4 L164.3 235.0 L165.1 232.6 L166.0 232.9 L166.8 234.8 L167.7 234.1 L168.5 233.7 L169.4 237.4 L170.2 235.0 L171.1 234.0 L171.9 232.9 L172.8 234.2 L173.6 234.6 L174.5 236.0 L175.3 236.6 L176.2 235.3 L177.0 235.5 L177.9 234.1 L178.7 237.5 L179.6 240.4 L180.4 236.1 L181.3 237.2 L182.1 237.2 L183.0 237.6 L183.8 240.8 L184.7 236.7 L185.5 242.5 L186.4 239.4 L187.2 239.7 L188.1 239.5 L188.9 237.8 L189.8 241.6 L190.6 238.9 L191.5 241.7 L192.3 239.1 L193.2 240.8 L194.0 239.1 L194.9 240.3 L195.7 240.8 L196.5 239.6 L197.4 242.3 L198.2 241.0 L199.1 240.5 L199.9 239.3 L200.8 239.7 L201.6 241.0 L202.5 240.9 L203.3 241.3 L204.2 243.5 L205.0 241.6 L205.9 241.5 L206.7 239.6 L207.6 242.5 L208.4 237.7 L209.3 239.8 L210.1 241.1 L211.0 240.5 L211.8 243.8 L212.7 241.9 L213.5 241.0 L214.4 240.7 L215.2 242.5 L216.1 240.2 L216.9 240.0 L217.8 240.9 L218.6 241.2 L219.5 241.7 L220.3 242.1 L221.2 243.2 L222.0 243.0 L222.9 241.8 L223.7 241.4 L224.6 242.4 L225.4 242.0 L226.3 241.5 L227.1 242.8 L228.0 243.0 L228.8 243.0 L229.7 240.4 L230.5 243.8 L231.4 244.0 L232.2 246.4 L233.0 242.7 L233.9 244.2 L234.7 244.7 L235.6 244.1 L236.4 241.2 L237.3 243.3 L238.1 242.0 L239.0 242.1 L239.8 244.1 L240.7 241.3 L241.5 241.0 L242.4 244.4 L243.2 243.0 L244.1 245.3 L244.9 240.9 L245.8 245.7 L246.6 243.2 L247.5 245.5 L248.3 243.2 L249.2 244.0 L250.0 244.0 L250.9 241.9 L251.7 241.9 L252.6 245.0 L253.4 244.6 L254.3 242.7 L255.1 244.4 L256.0 244.6 L256.8 243.2 L257.7 244.4 L258.5 245.3 L259.4 243.6 L260.2 244.0 L261.1 244.3 L261.9 243.2 L262.8 243.9 L263.6 243.3 L264.5 243.8 L265.3 241.2 L266.2 241.5 L267.0 243.3 L267.9 244.1 L268.7 246.0 L269.5 244.5 L270.4 245.1 L271.2 244.8 L272.1 246.1 L272.9 244.4 L273.8 245.0 L274.6 246.4 L275.5 245.6 L276.3 245.2 L277.2 246.4 L278.0 246.0 L278.9 246.3 L279.7 245.2 L280.6 244.9 L281.4 244.4 L282.3 245.4 L283.1 246.6 L284.0 246.7 L284.8 246.9 L285.7 245.2 L286.5 247.1 L287.4 248.2 L288.2 246.2 L289.1 249.0 L289.9 246.6 L290.8 249.7 L291.6 250.2 L292.5 247.0 L293.3 246.2 L294.2 248.3 L295.0 248.3 L295.9 247.3 L296.7 248.7 L297.6 248.0 L298.4 250.4 L299.3 247.4 L300.1 250.6 L301.0 248.5 L301.8 250.7 L302.7 246.2 L303.5 251.8 L304.4 247.4 L305.2 251.3" fill="none" stroke="#ee1d25" stroke-width="1.70" stroke-linejoin="round"/>
</g>
<g clip-path="url(#clipB)">
<path d="M388.8 239.1 L389.8 237.1 L390.8 234.8 L391.7 229.5 L392.7 230.3 L393.7 221.6 L394.7 222.1 L395.7 212.9 L396.6 214.5 L397.6 204.4 L398.6 205.5 L399.6 203.9 L400.5 203.0 L401.5 196.9 L402.5 188.6 L403.5 193.0 L404.5 187.7 L405.4 190.6 L406.4 193.5 L407.4 196.5 L408.4 187.7 L409.4 189.9 L410.3 186.7 L411.3 181.2 L412.3 186.1 L413.3 180.8 L414.2 181.7 L415.2 174.2 L416.2 176.4 L417.2 166.1 L418.2 166.0 L419.1 170.1 L420.1 167.1 L421.1 166.6 L422.1 170.7 L423.1 167.3 L424.0 163.2 L425.0 162.9 L426.0 159.3 L427.0 158.8 L428.0 157.2 L428.9 149.7 L429.9 147.3 L430.9 146.9 L431.9 154.4 L432.8 150.0 L433.8 151.2 L434.8 155.9 L435.8 146.3 L436.8 142.0 L437.7 150.8 L438.7 150.6 L439.7 146.1 L440.7 146.6 L441.7 143.6 L442.6 147.2 L443.6 145.5 L444.6 149.0 L445.6 143.2 L446.5 144.3 L447.5 142.5 L448.5 141.5 L449.5 140.1 L450.5 144.2 L451.4 137.9 L452.4 133.0 L453.4 135.4 L454.4 128.1 L455.4 133.8 L456.3 130.1 L457.3 121.5 L458.3 130.9 L459.3 122.5 L460.2 117.2 L461.2 124.3 L462.2 125.0 L463.2 123.0 L464.2 120.4 L465.1 120.3 L466.1 117.4 L467.1 116.8 L468.1 117.3 L469.1 114.1 L470.0 115.8 L471.0 113.0 L472.0 126.6 L473.0 117.5 L474.0 121.4 L474.9 115.4 L475.9 122.3 L476.9 120.1 L477.9 113.8 L478.8 114.5 L479.8 114.5 L480.8 112.4 L481.8 117.6 L482.8 111.5 L483.7 109.2 L484.7 111.8 L485.7 106.8 L486.7 108.0 L487.7 111.2 L488.6 103.1 L489.6 105.6 L490.6 103.7 L491.6 108.0 L492.5 102.4 L493.5 103.3 L494.5 103.7 L495.5 99.8 L496.5 103.0 L497.4 101.0 L498.4 91.6 L499.4 100.7 L500.4 96.6 L501.4 92.5 L502.3 94.2 L503.3 93.8 L504.3 91.1 L505.3 90.4 L506.3 89.6 L507.2 89.5 L508.2 94.8 L509.2 87.3 L510.2 97.8 L511.1 94.1 L512.1 86.4 L513.1 90.9 L514.1 86.1 L515.1 78.7 L516.0 79.5 L517.0 82.5 L518.0 80.2 L519.0 81.6 L520.0 79.7 L520.9 81.0 L521.9 80.8 L522.9 80.5 L523.9 79.9 L524.8 82.4 L525.8 83.8 L526.8 78.6 L527.8 72.4 L528.8 85.5 L529.7 78.9 L530.7 77.5 L531.7 77.3 L532.7 72.3 L533.7 69.2 L534.6 68.5 L535.6 71.0 L536.6 74.7 L537.6 70.6 L538.6 70.2 L539.5 74.3 L540.5 74.1 L541.5 71.7 L542.5 73.5 L543.4 68.4 L544.4 68.0 L545.4 71.0 L546.4 66.5 L547.4 62.4 L548.3 64.5 L549.3 69.1 L550.3 63.1 L551.3 65.2 L552.3 75.9 L553.2 65.8 L554.2 65.9 L555.2 70.4 L556.2 66.2 L557.1 64.7 L558.1 69.4 L559.1 65.2 L560.1 69.3 L561.1 59.6 L562.0 63.8 L563.0 68.3 L564.0 64.8 L565.0 61.6 L566.0 60.2 L566.9 56.6 L567.9 56.0 L568.9 63.0 L569.9 62.7 L570.9 59.6 L571.8 61.6 L572.8 66.6 L573.8 61.4 L574.8 53.1 L575.7 60.9 L576.7 52.6 L577.7 54.3 L578.7 55.5 L579.7 51.0 L580.6 52.7 L581.6 59.1 L582.6 51.9 L583.6 54.9 L584.6 56.4 L585.5 55.9 L586.5 53.5 L587.5 49.8 L588.5 58.1 L589.4 54.1 L590.4 51.6 L591.4 51.8 L592.4 53.9 L593.4 47.8 L594.3 46.5 L595.3 46.4 L596.3 50.3 L597.3 49.7 L598.3 57.3 L599.2 53.4 L600.2 49.9 L601.2 54.1 L602.2 55.0 L603.1 49.0 L604.1 52.8 L605.1 52.0 L606.1 46.9 L607.1 51.0 L608.0 54.7 L609.0 54.3 L610.0 56.0 L611.0 43.2 L612.0 50.4 L612.9 45.6 L613.9 52.3 L614.9 47.8 L615.9 49.3 L616.9 49.9 L617.8 46.2 L618.8 50.8 L619.8 51.6 L620.8 39.0 L621.7 44.5 L622.7 43.3 L623.7 39.5 L624.7 44.7 L625.7 42.3 L626.6 32.4 L627.6 41.0 L628.6 42.9 L629.6 43.4 L630.6 38.3 L631.5 36.1 L632.5 43.8 L633.5 39.4 L634.5 40.5 L635.4 39.7 L636.4 38.0 L637.4 42.2 L638.4 42.2 L639.4 39.9 L640.3 44.0 L641.3 40.9 L642.3 46.3 L642.3 85.2 L641.3 81.3 L640.3 84.7 L639.4 84.3 L638.4 78.8 L637.4 84.2 L636.4 83.1 L635.4 82.4 L634.5 80.9 L633.5 81.3 L632.5 85.2 L631.5 80.6 L630.6 82.3 L629.6 86.1 L628.6 89.1 L627.6 89.8 L626.6 93.8 L625.7 91.7 L624.7 89.1 L623.7 85.2 L622.7 88.8 L621.7 84.7 L620.8 83.0 L619.8 85.4 L618.8 78.9 L617.8 90.4 L616.9 78.9 L615.9 83.2 L614.9 84.9 L613.9 90.0 L612.9 88.6 L612.0 85.7 L611.0 80.0 L610.0 87.9 L609.0 88.4 L608.0 91.6 L607.1 87.8 L606.1 87.1 L605.1 90.7 L604.1 89.0 L603.1 84.8 L602.2 88.3 L601.2 95.0 L600.2 97.2 L599.2 94.0 L598.3 96.6 L597.3 92.6 L596.3 92.5 L595.3 96.3 L594.3 87.0 L593.4 93.2 L592.4 89.8 L591.4 91.9 L590.4 93.8 L589.4 93.7 L588.5 102.1 L587.5 91.0 L586.5 88.7 L585.5 93.9 L584.6 95.5 L583.6 93.6 L582.6 91.5 L581.6 99.6 L580.6 95.8 L579.7 90.1 L578.7 99.5 L577.7 97.9 L576.7 97.0 L575.7 99.4 L574.8 95.9 L573.8 100.3 L572.8 101.1 L571.8 98.5 L570.9 99.4 L569.9 98.0 L568.9 102.5 L567.9 100.5 L566.9 101.8 L566.0 105.1 L565.0 104.9 L564.0 97.0 L563.0 95.3 L562.0 97.4 L561.1 94.4 L560.1 104.0 L559.1 103.7 L558.1 99.0 L557.1 103.8 L556.2 107.1 L555.2 104.1 L554.2 102.1 L553.2 101.4 L552.3 107.4 L551.3 106.0 L550.3 104.9 L549.3 102.2 L548.3 103.9 L547.4 103.5 L546.4 101.7 L545.4 108.3 L544.4 104.0 L543.4 99.4 L542.5 116.5 L541.5 115.2 L540.5 108.4 L539.5 110.1 L538.6 115.1 L537.6 114.2 L536.6 116.7 L535.6 118.3 L534.6 112.7 L533.7 108.1 L532.7 116.4 L531.7 114.5 L530.7 121.0 L529.7 108.5 L528.8 110.4 L527.8 109.9 L526.8 114.0 L525.8 112.2 L524.8 107.9 L523.9 119.4 L522.9 107.8 L521.9 112.2 L520.9 115.3 L520.0 110.4 L519.0 109.5 L518.0 110.3 L517.0 118.7 L516.0 113.8 L515.1 114.4 L514.1 118.5 L513.1 123.7 L512.1 119.1 L511.1 120.0 L510.2 123.2 L509.2 122.5 L508.2 119.1 L507.2 121.2 L506.3 121.5 L505.3 121.4 L504.3 123.4 L503.3 121.9 L502.3 125.1 L501.4 118.2 L500.4 120.1 L499.4 122.3 L498.4 125.8 L497.4 125.3 L496.5 128.4 L495.5 127.2 L494.5 128.7 L493.5 128.9 L492.5 131.3 L491.6 129.1 L490.6 129.8 L489.6 131.1 L488.6 128.8 L487.7 138.0 L486.7 131.4 L485.7 133.8 L484.7 132.2 L483.7 126.4 L482.8 137.3 L481.8 140.1 L480.8 134.6 L479.8 140.3 L478.8 132.9 L477.9 137.5 L476.9 137.3 L475.9 139.8 L474.9 141.6 L474.0 141.4 L473.0 138.7 L472.0 137.9 L471.0 130.2 L470.0 128.0 L469.1 137.5 L468.1 144.7 L467.1 142.8 L466.1 139.4 L465.1 144.4 L464.2 147.8 L463.2 152.5 L462.2 149.9 L461.2 154.5 L460.2 149.4 L459.3 152.1 L458.3 154.3 L457.3 150.0 L456.3 154.8 L455.4 152.5 L454.4 146.9 L453.4 151.6 L452.4 165.0 L451.4 164.3 L450.5 159.2 L449.5 167.0 L448.5 161.1 L447.5 165.8 L446.5 166.4 L445.6 160.2 L444.6 156.6 L443.6 167.5 L442.6 166.4 L441.7 167.0 L440.7 164.4 L439.7 168.3 L438.7 167.4 L437.7 170.4 L436.8 165.6 L435.8 170.9 L434.8 172.5 L433.8 171.7 L432.8 162.6 L431.9 164.9 L430.9 165.2 L429.9 171.7 L428.9 170.5 L428.0 174.3 L427.0 166.9 L426.0 178.4 L425.0 181.1 L424.0 166.4 L423.1 174.0 L422.1 177.9 L421.1 185.0 L420.1 183.0 L419.1 192.2 L418.2 188.0 L417.2 186.6 L416.2 177.7 L415.2 185.6 L414.2 195.8 L413.3 198.7 L412.3 199.2 L411.3 193.8 L410.3 202.5 L409.4 203.2 L408.4 205.1 L407.4 205.2 L406.4 199.5 L405.4 194.5 L404.5 205.2 L403.5 197.9 L402.5 210.1 L401.5 214.9 L400.5 213.9 L399.6 216.5 L398.6 214.4 L397.6 220.5 L396.6 226.8 L395.7 222.8 L394.7 228.1 L393.7 232.4 L392.7 234.1 L391.7 237.5 L390.8 239.6 L389.8 242.0 L388.8 240.4Z" fill="#c4c5c7" stroke="#c4c5c7" stroke-width="0.4" stroke-linejoin="round"/>
<path d="M388.8 123.1 L389.8 128.6 L390.8 130.0 L391.7 137.6 L392.7 144.1 L393.7 141.2 L394.7 145.5 L395.7 149.0 L396.6 156.5 L397.6 152.3 L398.6 155.6 L399.6 156.7 L400.5 160.6 L401.5 159.1 L402.5 162.8 L403.5 154.7 L404.5 160.0 L405.4 156.0 L406.4 162.2 L407.4 161.0 L408.4 163.7 L409.4 164.0 L410.3 170.1 L411.3 166.1 L412.3 166.5 L413.3 169.0 L414.2 171.2 L415.2 171.3 L416.2 176.7 L417.2 180.6 L418.2 187.0 L419.1 181.7 L420.1 170.0 L421.1 174.0 L422.1 172.7 L423.1 179.1 L424.0 176.4 L425.0 177.8 L426.0 176.4 L427.0 179.2 L428.0 178.2 L428.9 176.4 L429.9 182.6 L430.9 182.7 L431.9 181.7 L432.8 183.9 L433.8 186.6 L434.8 181.1 L435.8 180.1 L436.8 180.0 L437.7 184.0 L438.7 177.9 L439.7 180.0 L440.7 173.2 L441.7 175.8 L442.6 172.9 L443.6 178.1 L444.6 174.7 L445.6 179.0 L446.5 180.8 L447.5 180.3 L448.5 184.6 L449.5 182.9 L450.5 185.5 L451.4 185.7 L452.4 186.3 L453.4 183.8 L454.4 185.6 L455.4 192.0 L456.3 192.7 L457.3 189.9 L458.3 190.5 L459.3 189.6 L460.2 198.2 L461.2 191.8 L462.2 193.0 L463.2 195.5 L464.2 199.8 L465.1 198.2 L466.1 194.6 L467.1 193.2 L468.1 202.4 L469.1 205.4 L470.0 199.4 L471.0 204.9 L472.0 207.1 L473.0 207.4 L474.0 205.8 L474.9 202.6 L475.9 206.3 L476.9 203.4 L477.9 201.7 L478.8 204.4 L479.8 204.8 L480.8 201.7 L481.8 201.4 L482.8 199.3 L483.7 200.5 L484.7 198.7 L485.7 203.3 L486.7 203.2 L487.7 198.1 L488.6 202.6 L489.6 204.7 L490.6 207.5 L491.6 199.9 L492.5 205.0 L493.5 206.4 L494.5 206.8 L495.5 209.7 L496.5 211.6 L497.4 210.1 L498.4 210.2 L499.4 208.4 L500.4 210.2 L501.4 213.5 L502.3 214.5 L503.3 212.5 L504.3 216.9 L505.3 211.2 L506.3 214.7 L507.2 216.4 L508.2 216.9 L509.2 215.6 L510.2 212.8 L511.1 212.8 L512.1 210.1 L513.1 215.5 L514.1 211.3 L515.1 212.6 L516.0 216.0 L517.0 215.9 L518.0 216.8 L519.0 217.4 L520.0 216.0 L520.9 215.7 L521.9 211.2 L522.9 217.5 L523.9 221.9 L524.8 213.7 L525.8 215.4 L526.8 215.6 L527.8 219.4 L528.8 219.7 L529.7 221.3 L530.7 223.0 L531.7 224.8 L532.7 220.6 L533.7 226.0 L534.6 217.8 L535.6 222.3 L536.6 220.2 L537.6 217.9 L538.6 221.1 L539.5 223.9 L540.5 219.5 L541.5 216.7 L542.5 219.1 L543.4 220.6 L544.4 220.2 L545.4 219.0 L546.4 220.2 L547.4 218.0 L548.3 219.9 L549.3 222.1 L550.3 223.1 L551.3 218.4 L552.3 222.2 L553.2 222.0 L554.2 222.8 L555.2 223.1 L556.2 220.0 L557.1 224.8 L558.1 223.1 L559.1 223.5 L560.1 229.9 L561.1 222.4 L562.0 221.6 L563.0 224.1 L564.0 224.1 L565.0 221.2 L566.0 222.7 L566.9 224.2 L567.9 227.9 L568.9 223.7 L569.9 226.8 L570.9 225.3 L571.8 224.5 L572.8 221.7 L573.8 225.8 L574.8 224.1 L575.7 226.4 L576.7 223.3 L577.7 215.0 L578.7 218.0 L579.7 220.5 L580.6 219.3 L581.6 223.3 L582.6 219.0 L583.6 223.1 L584.6 223.2 L585.5 222.4 L586.5 221.6 L587.5 224.0 L588.5 223.8 L589.4 226.1 L590.4 226.4 L591.4 226.6 L592.4 222.8 L593.4 227.5 L594.3 224.7 L595.3 228.0 L596.3 227.9 L597.3 227.7 L598.3 227.0 L599.2 227.3 L600.2 228.1 L601.2 229.9 L602.2 228.0 L603.1 231.6 L604.1 228.1 L605.1 227.0 L606.1 223.5 L607.1 223.3 L608.0 222.0 L609.0 227.8 L610.0 231.3 L611.0 231.1 L612.0 232.7 L612.9 226.6 L613.9 228.9 L614.9 230.6 L615.9 230.6 L616.9 235.3 L617.8 234.5 L618.8 233.6 L619.8 231.6 L620.8 235.6 L621.7 234.2 L622.7 234.6 L623.7 232.0 L624.7 233.9 L625.7 234.1 L626.6 228.8 L627.6 235.2 L628.6 236.2 L629.6 237.7 L630.6 234.3 L631.5 237.2 L632.5 236.4 L633.5 235.6 L634.5 236.5 L635.4 235.7 L636.4 237.0 L637.4 235.7 L638.4 233.9 L639.4 235.8 L640.3 241.0 L641.3 239.6 L642.3 241.3 L642.3 270.6 L641.3 261.8 L640.3 270.7 L639.4 262.7 L638.4 261.6 L637.4 266.4 L636.4 267.4 L635.4 262.8 L634.5 265.8 L633.5 265.1 L632.5 263.0 L631.5 265.6 L630.6 265.0 L629.6 261.0 L628.6 263.9 L627.6 258.9 L626.6 259.4 L625.7 263.6 L624.7 260.1 L623.7 257.3 L622.7 259.7 L621.7 258.5 L620.8 257.7 L619.8 257.5 L618.8 256.7 L617.8 262.8 L616.9 257.8 L615.9 255.1 L614.9 255.0 L613.9 258.6 L612.9 258.2 L612.0 257.9 L611.0 256.0 L610.0 253.0 L609.0 256.3 L608.0 255.1 L607.1 255.6 L606.1 253.3 L605.1 259.8 L604.1 255.6 L603.1 255.4 L602.2 258.9 L601.2 263.6 L600.2 263.9 L599.2 259.0 L598.3 261.4 L597.3 258.2 L596.3 255.5 L595.3 253.2 L594.3 254.7 L593.4 251.2 L592.4 255.1 L591.4 258.0 L590.4 255.7 L589.4 255.1 L588.5 252.4 L587.5 249.2 L586.5 249.7 L585.5 249.0 L584.6 252.3 L583.6 251.1 L582.6 247.7 L581.6 252.5 L580.6 249.0 L579.7 257.2 L578.7 250.1 L577.7 247.0 L576.7 252.1 L575.7 250.9 L574.8 249.3 L573.8 249.7 L572.8 255.0 L571.8 255.5 L570.9 249.9 L569.9 252.0 L568.9 250.6 L567.9 258.0 L566.9 251.5 L566.0 254.2 L565.0 253.7 L564.0 254.2 L563.0 253.4 L562.0 250.5 L561.1 253.6 L560.1 250.6 L559.1 256.3 L558.1 253.7 L557.1 253.2 L556.2 249.1 L555.2 252.3 L554.2 251.1 L553.2 251.6 L552.3 246.7 L551.3 249.5 L550.3 251.9 L549.3 246.6 L548.3 252.5 L547.4 248.0 L546.4 248.6 L545.4 249.2 L544.4 254.5 L543.4 246.6 L542.5 254.9 L541.5 253.8 L540.5 250.0 L539.5 249.6 L538.6 246.7 L537.6 248.6 L536.6 245.6 L535.6 252.6 L534.6 252.6 L533.7 248.9 L532.7 252.1 L531.7 249.4 L530.7 248.8 L529.7 251.4 L528.8 251.9 L527.8 248.6 L526.8 250.8 L525.8 252.7 L524.8 243.9 L523.9 248.9 L522.9 245.8 L521.9 251.2 L520.9 251.4 L520.0 248.8 L519.0 250.3 L518.0 250.8 L517.0 244.3 L516.0 243.6 L515.1 246.3 L514.1 245.6 L513.1 242.3 L512.1 244.9 L511.1 242.7 L510.2 249.2 L509.2 243.3 L508.2 240.0 L507.2 241.6 L506.3 244.8 L505.3 244.9 L504.3 240.2 L503.3 245.7 L502.3 243.7 L501.4 244.8 L500.4 245.9 L499.4 244.2 L498.4 241.8 L497.4 245.9 L496.5 241.3 L495.5 243.7 L494.5 243.3 L493.5 239.8 L492.5 239.1 L491.6 240.2 L490.6 241.2 L489.6 237.1 L488.6 234.6 L487.7 233.7 L486.7 235.3 L485.7 230.3 L484.7 230.1 L483.7 235.0 L482.8 228.5 L481.8 228.2 L480.8 231.2 L479.8 232.1 L478.8 233.9 L477.9 228.9 L476.9 226.7 L475.9 227.5 L474.9 231.1 L474.0 229.3 L473.0 229.5 L472.0 230.4 L471.0 224.4 L470.0 229.9 L469.1 227.8 L468.1 229.0 L467.1 226.9 L466.1 222.8 L465.1 224.9 L464.2 227.2 L463.2 220.3 L462.2 218.8 L461.2 217.8 L460.2 218.4 L459.3 215.4 L458.3 218.1 L457.3 216.8 L456.3 224.5 L455.4 214.8 L454.4 212.6 L453.4 212.1 L452.4 213.5 L451.4 209.8 L450.5 211.8 L449.5 204.8 L448.5 212.6 L447.5 206.7 L446.5 203.9 L445.6 205.8 L444.6 200.8 L443.6 205.7 L442.6 195.8 L441.7 197.2 L440.7 200.0 L439.7 197.2 L438.7 203.3 L437.7 208.1 L436.8 206.2 L435.8 210.4 L434.8 207.4 L433.8 207.0 L432.8 208.7 L431.9 204.9 L430.9 197.7 L429.9 203.8 L428.9 204.0 L428.0 200.4 L427.0 199.4 L426.0 199.1 L425.0 194.4 L424.0 193.6 L423.1 199.7 L422.1 195.3 L421.1 197.5 L420.1 190.4 L419.1 203.1 L418.2 206.0 L417.2 200.2 L416.2 202.6 L415.2 192.9 L414.2 191.2 L413.3 186.8 L412.3 189.3 L411.3 190.4 L410.3 186.7 L409.4 189.3 L408.4 190.7 L407.4 180.8 L406.4 180.8 L405.4 180.7 L404.5 182.5 L403.5 180.1 L402.5 180.7 L401.5 176.2 L400.5 180.2 L399.6 173.9 L398.6 179.3 L397.6 173.6 L396.6 171.8 L395.7 168.9 L394.7 165.6 L393.7 164.2 L392.7 162.1 L391.7 157.1 L390.8 150.6 L389.8 140.9 L388.8 132.9Z" fill="#c4c5c7" stroke="#c4c5c7" stroke-width="0.4" stroke-linejoin="round"/>
<path d="M388.8 145.7 L389.8 144.2 L390.8 140.6 L391.7 137.1 L392.7 132.3 L393.7 133.0 L394.7 127.1 L395.7 122.8 L396.6 137.7 L397.6 129.3 L398.6 138.9 L399.6 143.0 L400.5 140.4 L401.5 137.4 L402.5 140.1 L403.5 142.4 L404.5 140.4 L405.4 142.7 L406.4 141.5 L407.4 149.4 L408.4 143.4 L409.4 144.7 L410.3 147.7 L411.3 142.4 L412.3 144.5 L413.3 142.5 L414.2 147.2 L415.2 143.2 L416.2 144.6 L417.2 142.3 L418.2 145.7 L419.1 143.5 L420.1 146.4 L421.1 145.9 L422.1 153.5 L423.1 150.3 L424.0 155.2 L425.0 153.4 L426.0 151.1 L427.0 155.7 L428.0 157.1 L428.9 151.8 L429.9 154.8 L430.9 160.0 L431.9 153.1 L432.8 154.0 L433.8 160.0 L434.8 151.4 L435.8 159.4 L436.8 158.1 L437.7 154.0 L438.7 163.9 L439.7 154.4 L440.7 158.0 L441.7 159.1 L442.6 157.2 L443.6 165.8 L444.6 166.8 L445.6 156.4 L446.5 162.0 L447.5 162.7 L448.5 161.9 L449.5 160.8 L450.5 157.2 L451.4 165.3 L452.4 155.9 L453.4 159.1 L454.4 162.1 L455.4 165.9 L456.3 161.8 L457.3 164.8 L458.3 165.4 L459.3 162.5 L460.2 161.6 L461.2 164.2 L462.2 162.8 L463.2 160.6 L464.2 155.5 L465.1 165.3 L466.1 160.6 L467.1 167.4 L468.1 162.5 L469.1 163.3 L470.0 171.2 L471.0 161.6 L472.0 162.6 L473.0 164.9 L474.0 160.3 L474.9 162.7 L475.9 158.5 L476.9 160.6 L477.9 162.5 L478.8 161.6 L479.8 168.7 L480.8 156.9 L481.8 157.2 L482.8 161.2 L483.7 161.6 L484.7 167.1 L485.7 166.0 L486.7 170.7 L487.7 162.3 L488.6 159.3 L489.6 162.6 L490.6 154.2 L491.6 164.5 L492.5 171.3 L493.5 169.5 L494.5 164.8 L495.5 172.9 L496.5 163.9 L497.4 167.4 L498.4 167.8 L499.4 155.5 L500.4 166.5 L501.4 170.3 L502.3 165.4 L503.3 160.1 L504.3 170.1 L505.3 164.0 L506.3 169.7 L507.2 176.4 L508.2 174.1 L509.2 179.5 L510.2 170.4 L511.1 168.0 L512.1 173.4 L513.1 177.6 L514.1 181.2 L515.1 183.3 L516.0 186.8 L517.0 182.1 L518.0 170.8 L519.0 176.7 L520.0 181.6 L520.9 182.1 L521.9 180.1 L522.9 177.5 L523.9 176.6 L524.8 177.5 L525.8 181.2 L526.8 179.2 L527.8 181.6 L528.8 178.2 L529.7 182.9 L530.7 182.8 L531.7 179.1 L532.7 177.4 L533.7 176.2 L534.6 181.1 L535.6 173.9 L536.6 178.8 L537.6 181.6 L538.6 174.2 L539.5 181.5 L540.5 179.4 L541.5 177.8 L542.5 177.2 L543.4 180.7 L544.4 188.4 L545.4 185.1 L546.4 183.1 L547.4 177.5 L548.3 180.5 L549.3 185.2 L550.3 176.4 L551.3 180.3 L552.3 182.3 L553.2 185.4 L554.2 187.5 L555.2 192.2 L556.2 183.5 L557.1 186.9 L558.1 178.1 L559.1 192.3 L560.1 182.5 L561.1 184.1 L562.0 182.8 L563.0 183.7 L564.0 186.9 L565.0 185.4 L566.0 180.1 L566.9 185.0 L567.9 182.4 L568.9 189.5 L569.9 184.5 L570.9 186.2 L571.8 181.8 L572.8 180.8 L573.8 198.8 L574.8 187.6 L575.7 192.5 L576.7 196.0 L577.7 186.2 L578.7 196.3 L579.7 200.5 L580.6 200.3 L581.6 198.4 L582.6 193.0 L583.6 206.4 L584.6 192.1 L585.5 191.4 L586.5 199.4 L587.5 200.9 L588.5 197.9 L589.4 195.5 L590.4 189.5 L591.4 196.6 L592.4 190.8 L593.4 187.1 L594.3 191.8 L595.3 198.5 L596.3 192.3 L597.3 193.0 L598.3 196.0 L599.2 186.7 L600.2 192.9 L601.2 193.9 L602.2 194.7 L603.1 188.4 L604.1 191.8 L605.1 193.0 L606.1 192.1 L607.1 195.7 L608.0 198.1 L609.0 188.0 L610.0 192.8 L611.0 192.9 L612.0 192.9 L612.9 196.3 L613.9 183.4 L614.9 194.2 L615.9 191.8 L616.9 186.0 L617.8 196.4 L618.8 195.8 L619.8 193.7 L620.8 197.6 L621.7 192.6 L622.7 190.2 L623.7 191.7 L624.7 191.1 L625.7 190.9 L626.6 195.6 L627.6 193.9 L628.6 195.7 L629.6 194.0 L630.6 200.0 L631.5 195.1 L632.5 182.0 L633.5 191.9 L634.5 191.2 L635.4 184.4 L636.4 200.0 L637.4 196.9 L638.4 199.8 L639.4 195.7 L640.3 194.3 L641.3 190.9 L642.3 193.8 L642.3 231.6 L641.3 223.7 L640.3 221.3 L639.4 219.1 L638.4 221.9 L637.4 224.2 L636.4 228.0 L635.4 224.6 L634.5 230.0 L633.5 229.3 L632.5 213.5 L631.5 235.3 L630.6 229.3 L629.6 228.8 L628.6 219.2 L627.6 218.4 L626.6 222.7 L625.7 228.8 L624.7 231.5 L623.7 225.0 L622.7 228.4 L621.7 221.2 L620.8 228.9 L619.8 224.6 L618.8 230.3 L617.8 223.4 L616.9 220.1 L615.9 228.5 L614.9 220.8 L613.9 215.5 L612.9 226.0 L612.0 227.5 L611.0 224.0 L610.0 232.4 L609.0 227.4 L608.0 227.2 L607.1 230.6 L606.1 231.1 L605.1 226.6 L604.1 230.7 L603.1 224.0 L602.2 232.1 L601.2 230.1 L600.2 228.1 L599.2 227.4 L598.3 220.9 L597.3 224.3 L596.3 219.1 L595.3 224.3 L594.3 224.4 L593.4 220.1 L592.4 219.2 L591.4 227.3 L590.4 226.1 L589.4 228.8 L588.5 224.7 L587.5 225.8 L586.5 225.0 L585.5 223.5 L584.6 223.9 L583.6 225.9 L582.6 223.0 L581.6 221.3 L580.6 225.4 L579.7 228.7 L578.7 223.6 L577.7 214.1 L576.7 224.0 L575.7 219.5 L574.8 220.1 L573.8 217.6 L572.8 212.1 L571.8 215.3 L570.9 211.8 L569.9 213.3 L568.9 204.3 L567.9 217.5 L566.9 217.6 L566.0 217.3 L565.0 210.4 L564.0 206.2 L563.0 211.7 L562.0 213.0 L561.1 212.9 L560.1 216.7 L559.1 215.5 L558.1 213.9 L557.1 221.4 L556.2 211.4 L555.2 218.6 L554.2 223.5 L553.2 220.3 L552.3 211.1 L551.3 212.2 L550.3 205.3 L549.3 210.6 L548.3 216.4 L547.4 203.6 L546.4 206.7 L545.4 211.6 L544.4 208.5 L543.4 211.4 L542.5 207.1 L541.5 209.4 L540.5 211.2 L539.5 212.3 L538.6 207.9 L537.6 208.3 L536.6 214.0 L535.6 217.6 L534.6 210.4 L533.7 213.1 L532.7 209.9 L531.7 209.4 L530.7 212.0 L529.7 212.3 L528.8 208.9 L527.8 202.7 L526.8 212.3 L525.8 211.7 L524.8 209.5 L523.9 214.7 L522.9 206.9 L521.9 207.5 L520.9 204.2 L520.0 204.1 L519.0 202.1 L518.0 199.6 L517.0 206.2 L516.0 202.8 L515.1 204.2 L514.1 201.4 L513.1 202.1 L512.1 195.1 L511.1 192.6 L510.2 195.0 L509.2 190.7 L508.2 199.3 L507.2 190.2 L506.3 200.1 L505.3 192.8 L504.3 192.8 L503.3 194.0 L502.3 198.3 L501.4 189.0 L500.4 197.1 L499.4 192.6 L498.4 192.2 L497.4 197.2 L496.5 195.3 L495.5 196.5 L494.5 186.3 L493.5 190.0 L492.5 185.5 L491.6 188.1 L490.6 190.2 L489.6 184.2 L488.6 182.7 L487.7 190.3 L486.7 192.6 L485.7 190.6 L484.7 193.2 L483.7 193.1 L482.8 189.8 L481.8 197.1 L480.8 190.5 L479.8 198.4 L478.8 191.8 L477.9 194.9 L476.9 189.5 L475.9 189.0 L474.9 189.7 L474.0 190.1 L473.0 188.3 L472.0 190.0 L471.0 192.4 L470.0 194.6 L469.1 193.9 L468.1 189.8 L467.1 193.7 L466.1 194.4 L465.1 191.0 L464.2 182.7 L463.2 184.2 L462.2 186.9 L461.2 186.2 L460.2 183.6 L459.3 188.5 L458.3 186.3 L457.3 184.4 L456.3 186.0 L455.4 187.3 L454.4 181.6 L453.4 183.2 L452.4 183.6 L451.4 186.3 L450.5 183.4 L449.5 189.9 L448.5 187.6 L447.5 193.4 L446.5 194.4 L445.6 189.3 L444.6 189.2 L443.6 189.1 L442.6 188.3 L441.7 193.5 L440.7 190.9 L439.7 183.1 L438.7 182.8 L437.7 181.0 L436.8 180.1 L435.8 186.4 L434.8 190.4 L433.8 176.0 L432.8 181.5 L431.9 179.0 L430.9 178.6 L429.9 186.5 L428.9 180.5 L428.0 180.0 L427.0 177.7 L426.0 179.4 L425.0 179.5 L424.0 174.3 L423.1 173.0 L422.1 173.6 L421.1 175.6 L420.1 170.3 L419.1 167.1 L418.2 165.1 L417.2 163.3 L416.2 162.8 L415.2 160.3 L414.2 165.3 L413.3 164.1 L412.3 163.9 L411.3 163.6 L410.3 165.6 L409.4 164.4 L408.4 173.4 L407.4 165.9 L406.4 165.0 L405.4 159.7 L404.5 165.1 L403.5 166.4 L402.5 159.6 L401.5 156.2 L400.5 156.6 L399.6 168.7 L398.6 152.3 L397.6 156.9 L396.6 154.9 L395.7 153.1 L394.7 150.8 L393.7 149.3 L392.7 149.9 L391.7 155.5 L390.8 151.7 L389.8 151.2 L388.8 151.5Z" fill="#c4c5c7" stroke="#c4c5c7" stroke-width="0.4" stroke-linejoin="round"/>
<path d="M388.8 241.3 L389.8 239.1 L390.8 236.4 L391.7 234.4 L392.7 231.4 L393.7 224.3 L394.7 227.2 L395.7 216.8 L396.6 218.2 L397.6 216.9 L398.6 211.0 L399.6 211.4 L400.5 207.8 L401.5 202.5 L402.5 198.2 L403.5 201.5 L404.5 201.4 L405.4 196.3 L406.4 195.4 L407.4 199.7 L408.4 194.5 L409.4 197.8 L410.3 196.2 L411.3 188.5 L412.3 188.6 L413.3 187.3 L414.2 186.6 L415.2 179.2 L416.2 180.7 L417.2 176.6 L418.2 177.8 L419.1 176.7 L420.1 179.5 L421.1 174.8 L422.1 172.6 L423.1 167.5 L424.0 163.0 L425.0 170.0 L426.0 166.4 L427.0 160.7 L428.0 165.6 L428.9 156.7 L429.9 160.6 L430.9 157.5 L431.9 161.7 L432.8 159.5 L433.8 162.5 L434.8 159.3 L435.8 158.3 L436.8 156.2 L437.7 161.5 L438.7 163.9 L439.7 160.1 L440.7 156.0 L441.7 155.0 L442.6 159.4 L443.6 154.1 L444.6 156.2 L445.6 144.1 L446.5 150.7 L447.5 153.8 L448.5 148.0 L449.5 148.8 L450.5 150.3 L451.4 150.3 L452.4 151.2 L453.4 144.1 L454.4 138.4 L455.4 141.7 L456.3 143.2 L457.3 139.7 L458.3 139.5 L459.3 139.4 L460.2 131.6 L461.2 137.2 L462.2 135.3 L463.2 133.8 L464.2 131.3 L465.1 128.9 L466.1 131.3 L467.1 127.9 L468.1 127.9 L469.1 129.2 L470.0 121.1 L471.0 124.9 L472.0 132.1 L473.0 128.4 L474.0 133.2 L474.9 125.4 L475.9 130.6 L476.9 130.6 L477.9 126.4 L478.8 124.7 L479.8 122.3 L480.8 124.5 L481.8 133.1 L482.8 128.4 L483.7 117.1 L484.7 124.7 L485.7 119.7 L486.7 128.1 L487.7 120.0 L488.6 117.4 L489.6 119.1 L490.6 116.8 L491.6 112.2 L492.5 119.4 L493.5 117.5 L494.5 118.4 L495.5 112.9 L496.5 117.2 L497.4 115.3 L498.4 111.4 L499.4 114.6 L500.4 109.4 L501.4 112.0 L502.3 110.7 L503.3 103.7 L504.3 108.2 L505.3 108.6 L506.3 110.3 L507.2 108.1 L508.2 110.9 L509.2 106.2 L510.2 107.7 L511.1 106.6 L512.1 102.0 L513.1 103.7 L514.1 107.5 L515.1 99.5 L516.0 95.4 L517.0 99.7 L518.0 97.8 L519.0 97.4 L520.0 98.2 L520.9 94.2 L521.9 95.1 L522.9 93.8 L523.9 98.8 L524.8 93.1 L525.8 96.5 L526.8 92.8 L527.8 81.2 L528.8 101.8 L529.7 88.3 L530.7 98.9 L531.7 96.4 L532.7 94.3 L533.7 89.1 L534.6 87.7 L535.6 92.2 L536.6 92.2 L537.6 89.0 L538.6 92.6 L539.5 93.7 L540.5 89.9 L541.5 96.2 L542.5 96.7 L543.4 90.2 L544.4 89.5 L545.4 87.7 L546.4 82.9 L547.4 79.2 L548.3 83.9 L549.3 83.7 L550.3 85.6 L551.3 82.8 L552.3 87.0 L553.2 80.8 L554.2 84.3 L555.2 89.0 L556.2 86.6 L557.1 82.8 L558.1 83.9 L559.1 86.5 L560.1 83.4 L561.1 82.4 L562.0 82.2 L563.0 86.9 L564.0 84.5 L565.0 85.1 L566.0 83.7 L566.9 83.2 L567.9 75.4 L568.9 82.6 L569.9 82.6 L570.9 80.6 L571.8 79.0 L572.8 82.8 L573.8 79.3 L574.8 75.1 L575.7 79.6 L576.7 76.7 L577.7 73.6 L578.7 80.7 L579.7 77.0 L580.6 76.8 L581.6 77.1 L582.6 78.1 L583.6 76.0 L584.6 72.4 L585.5 75.8 L586.5 70.8 L587.5 71.3 L588.5 71.5 L589.4 71.0 L590.4 70.9 L591.4 73.7 L592.4 71.9 L593.4 73.0 L594.3 67.5 L595.3 69.7 L596.3 69.6 L597.3 73.9 L598.3 71.7 L599.2 71.6 L600.2 71.9 L601.2 69.0 L602.2 69.8 L603.1 63.9 L604.1 67.3 L605.1 71.7 L606.1 71.9 L607.1 69.5 L608.0 67.2 L609.0 69.1 L610.0 67.2 L611.0 68.9 L612.0 67.8 L612.9 65.3 L613.9 68.6 L614.9 66.7 L615.9 68.6 L616.9 62.7 L617.8 74.2 L618.8 64.0 L619.8 68.2 L620.8 68.1 L621.7 66.8 L622.7 61.5 L623.7 62.6 L624.7 65.4 L625.7 62.5 L626.6 65.2 L627.6 62.4 L628.6 62.4 L629.6 68.9 L630.6 60.7 L631.5 58.5 L632.5 63.3 L633.5 62.7 L634.5 60.9 L635.4 60.1 L636.4 60.2 L637.4 60.9 L638.4 64.9 L639.4 62.5 L640.3 63.0 L641.3 61.0 L642.3 60.5" fill="none" stroke="#0b8140" stroke-width="1.70" stroke-linejoin="round"/>
<path d="M388.8 128.6 L389.8 136.0 L390.8 139.7 L391.7 145.7 L392.7 151.3 L393.7 153.5 L394.7 155.9 L395.7 158.2 L396.6 159.4 L397.6 163.8 L398.6 165.3 L399.6 162.8 L400.5 169.4 L401.5 167.2 L402.5 169.3 L403.5 171.6 L404.5 167.6 L405.4 168.6 L406.4 170.9 L407.4 170.8 L408.4 177.2 L409.4 174.3 L410.3 175.9 L411.3 178.5 L412.3 178.3 L413.3 179.0 L414.2 183.2 L415.2 183.3 L416.2 189.9 L417.2 192.3 L418.2 194.3 L419.1 190.6 L420.1 182.5 L421.1 183.6 L422.1 184.6 L423.1 188.1 L424.0 186.0 L425.0 187.1 L426.0 186.6 L427.0 189.3 L428.0 191.9 L428.9 190.0 L429.9 192.2 L430.9 191.0 L431.9 195.8 L432.8 198.7 L433.8 196.1 L434.8 193.7 L435.8 194.7 L436.8 192.3 L437.7 189.8 L438.7 187.7 L439.7 188.1 L440.7 184.3 L441.7 186.3 L442.6 189.3 L443.6 190.2 L444.6 192.0 L445.6 192.3 L446.5 193.2 L447.5 192.7 L448.5 197.6 L449.5 192.5 L450.5 199.0 L451.4 198.3 L452.4 200.3 L453.4 200.6 L454.4 202.4 L455.4 201.7 L456.3 205.1 L457.3 205.8 L458.3 206.3 L459.3 207.0 L460.2 207.0 L461.2 202.7 L462.2 206.9 L463.2 208.7 L464.2 211.8 L465.1 210.4 L466.1 213.1 L467.1 211.4 L468.1 214.4 L469.1 216.7 L470.0 218.6 L471.0 217.5 L472.0 218.8 L473.0 220.5 L474.0 221.6 L474.9 220.2 L475.9 220.7 L476.9 216.8 L477.9 216.2 L478.8 218.1 L479.8 219.0 L480.8 216.4 L481.8 215.8 L482.8 214.3 L483.7 215.6 L484.7 216.7 L485.7 216.0 L486.7 218.0 L487.7 218.1 L488.6 218.2 L489.6 219.9 L490.6 227.1 L491.6 222.5 L492.5 222.9 L493.5 224.1 L494.5 227.1 L495.5 228.7 L496.5 227.4 L497.4 229.2 L498.4 226.7 L499.4 227.7 L500.4 228.2 L501.4 225.5 L502.3 228.9 L503.3 228.0 L504.3 229.2 L505.3 224.4 L506.3 231.9 L507.2 229.4 L508.2 229.2 L509.2 229.5 L510.2 229.0 L511.1 231.3 L512.1 229.6 L513.1 230.0 L514.1 229.2 L515.1 234.6 L516.0 232.8 L517.0 228.3 L518.0 231.7 L519.0 234.1 L520.0 232.5 L520.9 235.0 L521.9 231.2 L522.9 231.6 L523.9 233.5 L524.8 230.7 L525.8 234.3 L526.8 233.9 L527.8 234.6 L528.8 234.5 L529.7 234.1 L530.7 234.2 L531.7 232.1 L532.7 235.1 L533.7 236.6 L534.6 231.7 L535.6 235.6 L536.6 233.2 L537.6 232.1 L538.6 234.4 L539.5 234.8 L540.5 236.1 L541.5 234.5 L542.5 233.8 L543.4 236.2 L544.4 235.3 L545.4 233.5 L546.4 231.7 L547.4 233.5 L548.3 235.1 L549.3 236.6 L550.3 236.1 L551.3 232.9 L552.3 235.5 L553.2 236.6 L554.2 236.5 L555.2 235.7 L556.2 237.1 L557.1 237.8 L558.1 237.2 L559.1 238.4 L560.1 238.7 L561.1 238.4 L562.0 236.2 L563.0 239.1 L564.0 238.8 L565.0 238.2 L566.0 235.6 L566.9 241.1 L567.9 241.8 L568.9 237.4 L569.9 241.8 L570.9 238.9 L571.8 240.1 L572.8 240.6 L573.8 239.2 L574.8 237.6 L575.7 238.2 L576.7 233.3 L577.7 233.2 L578.7 235.2 L579.7 236.5 L580.6 234.6 L581.6 237.5 L582.6 235.1 L583.6 235.6 L584.6 239.2 L585.5 236.3 L586.5 238.2 L587.5 238.6 L588.5 237.5 L589.4 240.1 L590.4 238.2 L591.4 241.4 L592.4 240.1 L593.4 241.5 L594.3 242.6 L595.3 243.9 L596.3 242.2 L597.3 243.9 L598.3 245.1 L599.2 244.0 L600.2 246.5 L601.2 243.5 L602.2 244.2 L603.1 242.4 L604.1 240.1 L605.1 245.3 L606.1 241.8 L607.1 240.2 L608.0 240.5 L609.0 241.3 L610.0 241.7 L611.0 243.6 L612.0 243.5 L612.9 242.1 L613.9 239.7 L614.9 244.5 L615.9 243.2 L616.9 245.1 L617.8 246.3 L618.8 242.0 L619.8 243.8 L620.8 246.5 L621.7 246.9 L622.7 245.8 L623.7 242.0 L624.7 244.9 L625.7 245.2 L626.6 244.1 L627.6 248.0 L628.6 248.2 L629.6 246.4 L630.6 247.6 L631.5 249.1 L632.5 249.6 L633.5 248.8 L634.5 249.1 L635.4 245.7 L636.4 249.9 L637.4 252.8 L638.4 248.3 L639.4 251.3 L640.3 254.2 L641.3 251.8 L642.3 254.0" fill="none" stroke="#231f20" stroke-width="1.70" stroke-linejoin="round"/>
<path d="M388.8 148.4 L389.8 147.8 L390.8 149.6 L391.7 145.6 L392.7 141.5 L393.7 140.6 L394.7 139.8 L395.7 134.3 L396.6 148.7 L397.6 145.7 L398.6 150.7 L399.6 158.7 L400.5 152.6 L401.5 148.8 L402.5 145.0 L403.5 153.8 L404.5 149.3 L405.4 146.2 L406.4 153.5 L407.4 156.4 L408.4 154.8 L409.4 146.6 L410.3 151.7 L411.3 155.8 L412.3 154.5 L413.3 150.0 L414.2 155.7 L415.2 154.2 L416.2 153.9 L417.2 159.3 L418.2 156.2 L419.1 151.6 L420.1 158.5 L421.1 156.0 L422.1 165.4 L423.1 162.1 L424.0 160.8 L425.0 167.9 L426.0 166.0 L427.0 160.8 L428.0 167.6 L428.9 164.7 L429.9 174.9 L430.9 167.6 L431.9 168.4 L432.8 168.5 L433.8 162.1 L434.8 165.6 L435.8 168.4 L436.8 170.5 L437.7 163.8 L438.7 171.8 L439.7 170.2 L440.7 175.5 L441.7 178.2 L442.6 176.8 L443.6 178.5 L444.6 182.0 L445.6 171.8 L446.5 177.3 L447.5 180.5 L448.5 177.0 L449.5 176.6 L450.5 174.6 L451.4 171.8 L452.4 170.5 L453.4 172.1 L454.4 167.5 L455.4 174.3 L456.3 166.3 L457.3 173.4 L458.3 177.4 L459.3 178.0 L460.2 176.7 L461.2 180.0 L462.2 172.9 L463.2 172.2 L464.2 168.4 L465.1 183.6 L466.1 177.1 L467.1 183.9 L468.1 173.4 L469.1 181.1 L470.0 176.2 L471.0 178.5 L472.0 171.6 L473.0 175.1 L474.0 178.9 L474.9 181.8 L475.9 179.2 L476.9 173.3 L477.9 179.7 L478.8 174.4 L479.8 179.5 L480.8 178.5 L481.8 181.0 L482.8 169.8 L483.7 175.5 L484.7 179.7 L485.7 181.4 L486.7 177.9 L487.7 184.7 L488.6 173.5 L489.6 179.5 L490.6 171.6 L491.6 174.2 L492.5 178.4 L493.5 180.0 L494.5 177.1 L495.5 183.0 L496.5 179.2 L497.4 179.3 L498.4 177.1 L499.4 179.8 L500.4 185.1 L501.4 183.6 L502.3 180.2 L503.3 175.0 L504.3 183.1 L505.3 178.5 L506.3 187.6 L507.2 181.3 L508.2 183.9 L509.2 184.7 L510.2 178.8 L511.1 176.6 L512.1 185.5 L513.1 186.1 L514.1 188.6 L515.1 189.8 L516.0 196.3 L517.0 191.2 L518.0 188.7 L519.0 190.2 L520.0 189.0 L520.9 201.6 L521.9 195.3 L522.9 192.4 L523.9 192.9 L524.8 188.3 L525.8 199.8 L526.8 197.1 L527.8 193.3 L528.8 192.7 L529.7 194.3 L530.7 189.6 L531.7 195.2 L532.7 192.4 L533.7 191.3 L534.6 191.1 L535.6 191.7 L536.6 194.5 L537.6 189.7 L538.6 192.7 L539.5 194.8 L540.5 197.5 L541.5 191.2 L542.5 187.7 L543.4 196.1 L544.4 193.2 L545.4 197.1 L546.4 194.0 L547.4 190.1 L548.3 198.3 L549.3 201.0 L550.3 185.3 L551.3 199.0 L552.3 190.8 L553.2 198.5 L554.2 201.4 L555.2 200.5 L556.2 193.1 L557.1 202.6 L558.1 196.0 L559.1 206.7 L560.1 199.4 L561.1 199.6 L562.0 196.7 L563.0 197.8 L564.0 197.3 L565.0 201.8 L566.0 199.5 L566.9 207.6 L567.9 199.9 L568.9 198.9 L569.9 199.5 L570.9 198.5 L571.8 198.2 L572.8 200.0 L573.8 201.4 L574.8 201.9 L575.7 204.3 L576.7 207.2 L577.7 199.4 L578.7 207.6 L579.7 210.3 L580.6 209.4 L581.6 207.7 L582.6 205.9 L583.6 204.9 L584.6 207.1 L585.5 206.9 L586.5 215.8 L587.5 209.7 L588.5 208.6 L589.4 213.6 L590.4 202.2 L591.4 211.5 L592.4 205.5 L593.4 208.0 L594.3 208.7 L595.3 207.7 L596.3 205.4 L597.3 203.9 L598.3 208.2 L599.2 211.9 L600.2 211.5 L601.2 214.6 L602.2 212.3 L603.1 208.0 L604.1 206.4 L605.1 210.8 L606.1 212.0 L607.1 211.5 L608.0 212.0 L609.0 207.7 L610.0 211.9 L611.0 210.2 L612.0 209.6 L612.9 213.6 L613.9 201.8 L614.9 208.1 L615.9 210.1 L616.9 201.2 L617.8 208.0 L618.8 210.8 L619.8 209.9 L620.8 215.2 L621.7 204.6 L622.7 205.6 L623.7 210.4 L624.7 209.3 L625.7 210.3 L626.6 205.5 L627.6 210.1 L628.6 209.6 L629.6 210.8 L630.6 211.4 L631.5 211.7 L632.5 189.6 L633.5 206.6 L634.5 215.1 L635.4 206.1 L636.4 214.4 L637.4 213.3 L638.4 211.9 L639.4 206.0 L640.3 208.5 L641.3 209.4 L642.3 205.2" fill="none" stroke="#ee1d25" stroke-width="1.70" stroke-linejoin="round"/>
</g>
<g stroke="#0c0c0c" stroke-width="1.4" fill="none" shape-rendering="auto">
<rect x="51.4" y="6.5" width="253.8" height="271.6"/>
<path stroke-width="0.9" d="M51.4 244.2h5.4 M305.2 244.2h-5.4"/>
<path stroke-width="0.9" d="M51.4 210.2h5.4 M305.2 210.2h-5.4"/>
<path stroke-width="0.9" d="M51.4 176.2h5.4 M305.2 176.2h-5.4"/>
<path stroke-width="0.9" d="M51.4 142.3h5.4 M305.2 142.3h-5.4"/>
<path stroke-width="0.9" d="M51.4 108.3h5.4 M305.2 108.3h-5.4"/>
<path stroke-width="0.9" d="M51.4 74.4h5.4 M305.2 74.4h-5.4"/>
<path stroke-width="0.9" d="M51.4 40.5h5.4 M305.2 40.5h-5.4"/>
<path stroke-width="0.9" d="M102.2 278.1v-5.4 M102.2 6.5v5.4"/>
<path stroke-width="0.9" d="M152.9 278.1v-5.4 M152.9 6.5v5.4"/>
<path stroke-width="0.9" d="M203.7 278.1v-5.4 M203.7 6.5v5.4"/>
<path stroke-width="0.9" d="M254.5 278.1v-5.4 M254.5 6.5v5.4"/>
<rect x="388.7" y="6.5" width="253.5" height="271.6"/>
<path stroke-width="0.9" d="M388.7 244.2h5.4 M642.2 244.2h-5.4"/>
<path stroke-width="0.9" d="M388.7 210.2h5.4 M642.2 210.2h-5.4"/>
<path stroke-width="0.9" d="M388.7 176.2h5.4 M642.2 176.2h-5.4"/>
<path stroke-width="0.9" d="M388.7 142.3h5.4 M642.2 142.3h-5.4"/>
<path stroke-width="0.9" d="M388.7 108.3h5.4 M642.2 108.3h-5.4"/>
<path stroke-width="0.9" d="M388.7 74.4h5.4 M642.2 74.4h-5.4"/>
<path stroke-width="0.9" d="M388.7 40.5h5.4 M642.2 40.5h-5.4"/>
<path stroke-width="0.9" d="M439.4 278.1v-5.4 M439.4 6.5v5.4"/>
<path stroke-width="0.9" d="M490.1 278.1v-5.4 M490.1 6.5v5.4"/>
<path stroke-width="0.9" d="M540.8 278.1v-5.4 M540.8 6.5v5.4"/>
<path stroke-width="0.9" d="M591.5 278.1v-5.4 M591.5 6.5v5.4"/>
</g>
<g font-family="'Liberation Sans', sans-serif" font-size="13.6px" fill="#1a1a1a" stroke="#1a1a1a" stroke-width="0.3">
<text x="45.8" y="281.7" text-anchor="end" textLength="25.8" lengthAdjust="spacingAndGlyphs">140</text>
<text x="45.8" y="247.8" text-anchor="end" textLength="25.8" lengthAdjust="spacingAndGlyphs">150</text>
<text x="45.8" y="213.8" text-anchor="end" textLength="25.8" lengthAdjust="spacingAndGlyphs">160</text>
<text x="45.8" y="179.8" text-anchor="end" textLength="25.8" lengthAdjust="spacingAndGlyphs">170</text>
<text x="45.8" y="145.9" text-anchor="end" textLength="25.8" lengthAdjust="spacingAndGlyphs">180</text>
<text x="45.8" y="111.9" text-anchor="end" textLength="25.8" lengthAdjust="spacingAndGlyphs">190</text>
<text x="45.8" y="78.0" text-anchor="end" textLength="25.8" lengthAdjust="spacingAndGlyphs">200</text>
<text x="45.8" y="44.1" text-anchor="end" textLength="25.8" lengthAdjust="spacingAndGlyphs">210</text>
<text x="45.8" y="10.1" text-anchor="end" textLength="25.8" lengthAdjust="spacingAndGlyphs">220</text>
<text x="51.4" y="294.0" text-anchor="middle" textLength="7.9" lengthAdjust="spacingAndGlyphs">0</text>
<text x="102.2" y="294.0" text-anchor="middle" textLength="34.6" lengthAdjust="spacingAndGlyphs">100K</text>
<text x="152.9" y="294.0" text-anchor="middle" textLength="34.6" lengthAdjust="spacingAndGlyphs">200K</text>
<text x="203.7" y="294.0" text-anchor="middle" textLength="34.6" lengthAdjust="spacingAndGlyphs">300K</text>
<text x="254.5" y="294.0" text-anchor="middle" textLength="34.6" lengthAdjust="spacingAndGlyphs">400K</text>
<text x="305.2" y="294.0" text-anchor="middle" textLength="34.6" lengthAdjust="spacingAndGlyphs">500K</text>
<text x="178.3" y="313.3" text-anchor="middle" textLength="81.0" lengthAdjust="spacingAndGlyphs" font-size="14.3px">generations</text>
<text transform="translate(10.8 142.3) rotate(-90)" text-anchor="middle" textLength="74.8" lengthAdjust="spacingAndGlyphs" font-size="14.3px">commands</text>
<text x="383.1" y="281.7" text-anchor="end" textLength="25.8" lengthAdjust="spacingAndGlyphs">140</text>
<text x="383.1" y="247.8" text-anchor="end" textLength="25.8" lengthAdjust="spacingAndGlyphs">150</text>
<text x="383.1" y="213.8" text-anchor="end" textLength="25.8" lengthAdjust="spacingAndGlyphs">160</text>
<text x="383.1" y="179.8" text-anchor="end" textLength="25.8" lengthAdjust="spacingAndGlyphs">170</text>
<text x="383.1" y="145.9" text-anchor="end" textLength="25.8" lengthAdjust="spacingAndGlyphs">180</text>
<text x="383.1" y="111.9" text-anchor="end" textLength="25.8" lengthAdjust="spacingAndGlyphs">190</text>
<text x="383.1" y="78.0" text-anchor="end" textLength="25.8" lengthAdjust="spacingAndGlyphs">200</text>
<text x="383.1" y="44.1" text-anchor="end" textLength="25.8" lengthAdjust="spacingAndGlyphs">210</text>
<text x="383.1" y="10.1" text-anchor="end" textLength="25.8" lengthAdjust="spacingAndGlyphs">220</text>
<text x="388.7" y="294.0" text-anchor="middle" textLength="7.9" lengthAdjust="spacingAndGlyphs">0</text>
<text x="439.4" y="294.0" text-anchor="middle" textLength="34.6" lengthAdjust="spacingAndGlyphs">100K</text>
<text x="490.1" y="294.0" text-anchor="middle" textLength="34.6" lengthAdjust="spacingAndGlyphs">200K</text>
<text x="540.8" y="294.0" text-anchor="middle" textLength="34.6" lengthAdjust="spacingAndGlyphs">300K</text>
<text x="591.5" y="294.0" text-anchor="middle" textLength="34.6" lengthAdjust="spacingAndGlyphs">400K</text>
<text x="642.2" y="294.0" text-anchor="middle" textLength="34.6" lengthAdjust="spacingAndGlyphs">500K</text>
<text x="515.5" y="313.3" text-anchor="middle" textLength="81.0" lengthAdjust="spacingAndGlyphs" font-size="14.3px">generations</text>
<text transform="translate(348.1 142.3) rotate(-90)" text-anchor="middle" textLength="74.8" lengthAdjust="spacingAndGlyphs" font-size="14.3px">commands</text>
</g>
<g font-family="'Liberation Sans', sans-serif" font-size="18.8px" font-weight="bold" fill="#111" stroke="#111" stroke-width="0.55">
<text transform="translate(61.0 27.9) scale(1.03 1)">A</text>
<text transform="translate(399.0 27.9) scale(1.0 1)">B</text>
</g>
</svg>
</body></html>
